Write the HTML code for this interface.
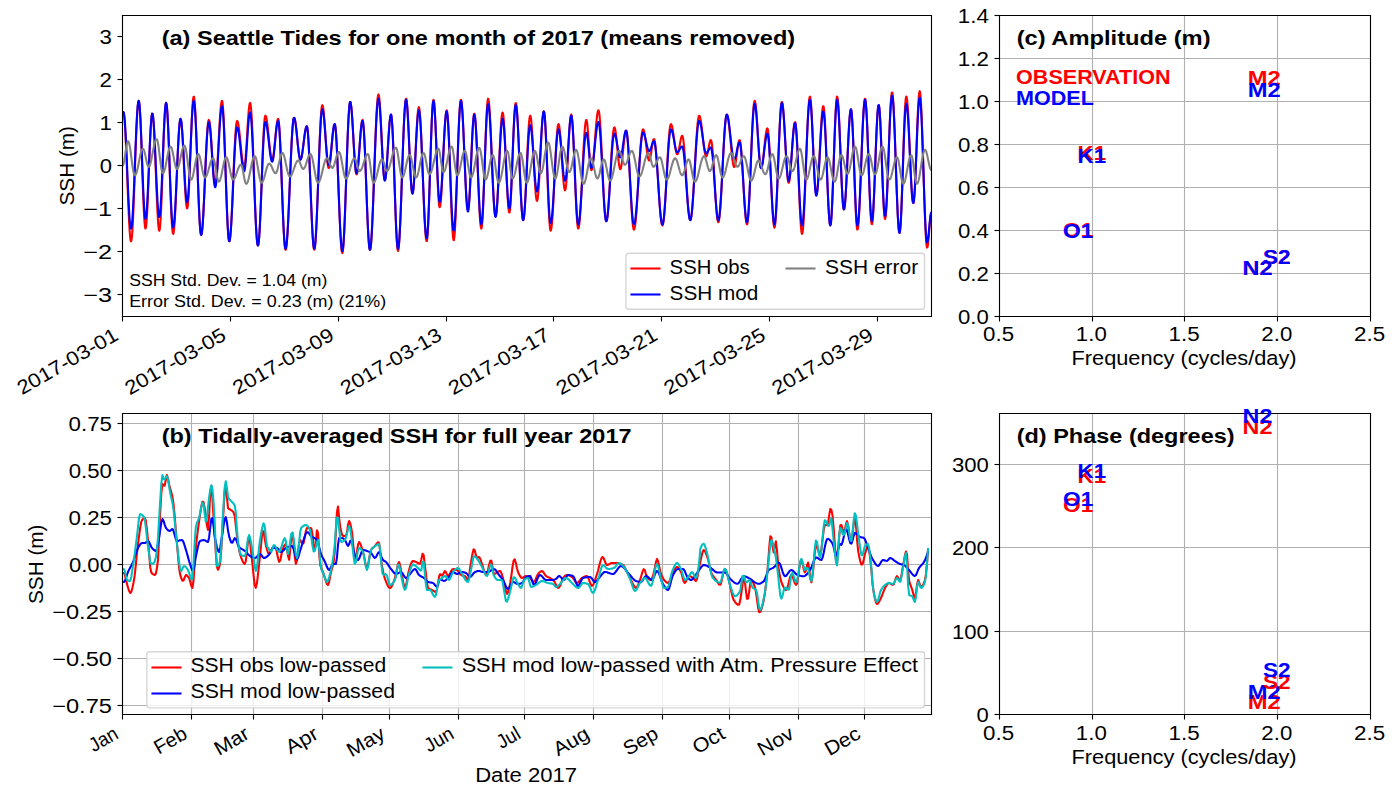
<!DOCTYPE html>
<html><head><meta charset="utf-8"><title>Seattle Tides</title><style>html,body{margin:0;padding:0;background:#fff;}svg{display:block;}text{font-family:"Liberation Sans",sans-serif;white-space:pre;}</style></head><body>
<svg width="1400" height="800" viewBox="0 0 1400 800">
<defs>
<clipPath id="c0"><rect x="122.45" y="15.2" width="809" height="301"/></clipPath>
<clipPath id="c1"><rect x="122.45" y="413.7" width="809" height="301.1"/></clipPath>
<clipPath id="c2"><rect x="999.35" y="15.2" width="371" height="301"/></clipPath>
<clipPath id="c3"><rect x="999.35" y="413.7" width="371" height="301.1"/></clipPath>
</defs>
<path d="M0 800L1400 800L1400 0L0 0Z" fill="#ffffff"/>
<path d="M122.45 316.2L931.45 316.2L931.45 15.2L122.45 15.2Z" fill="#ffffff"/>
<path d="M122.5 316.5L122.5 321.5" fill="#000000" stroke="#000000" stroke-width="1.11" stroke-linejoin="round"/>
<text x="21.9" y="395.35" font-size="19.83" fill="#000000" textLength="112.88" lengthAdjust="spacingAndGlyphs" transform="rotate(-30 21.9 395.35)">2017-03-01</text>
<path d="M230.5 316.5L230.5 321.5" fill="#000000" stroke="#000000" stroke-width="1.11" stroke-linejoin="round"/>
<text x="129.66" y="395.41" font-size="19.83" fill="#000000" textLength="113" lengthAdjust="spacingAndGlyphs" transform="rotate(-30 129.66 395.41)">2017-03-05</text>
<path d="M338.5 316.5L338.5 321.5" fill="#000000" stroke="#000000" stroke-width="1.11" stroke-linejoin="round"/>
<text x="237.63" y="395.35" font-size="19.83" fill="#000000" textLength="112.88" lengthAdjust="spacingAndGlyphs" transform="rotate(-30 237.63 395.35)">2017-03-09</text>
<path d="M446.5 316.5L446.5 321.5" fill="#000000" stroke="#000000" stroke-width="1.11" stroke-linejoin="round"/>
<text x="345.39" y="395.41" font-size="19.83" fill="#000000" textLength="113" lengthAdjust="spacingAndGlyphs" transform="rotate(-30 345.39 395.41)">2017-03-13</text>
<path d="M553.5 316.5L553.5 321.5" fill="#000000" stroke="#000000" stroke-width="1.11" stroke-linejoin="round"/>
<text x="453.26" y="395.41" font-size="19.83" fill="#000000" textLength="113" lengthAdjust="spacingAndGlyphs" transform="rotate(-30 453.26 395.41)">2017-03-17</text>
<path d="M661.5 316.5L661.5 321.5" fill="#000000" stroke="#000000" stroke-width="1.11" stroke-linejoin="round"/>
<text x="561.12" y="395.41" font-size="19.83" fill="#000000" textLength="113" lengthAdjust="spacingAndGlyphs" transform="rotate(-30 561.12 395.41)">2017-03-21</text>
<path d="M769.5 316.5L769.5 321.5" fill="#000000" stroke="#000000" stroke-width="1.11" stroke-linejoin="round"/>
<text x="668.88" y="395.48" font-size="19.83" fill="#000000" textLength="113.12" lengthAdjust="spacingAndGlyphs" transform="rotate(-30 668.88 395.48)">2017-03-25</text>
<path d="M877.5 316.5L877.5 321.5" fill="#000000" stroke="#000000" stroke-width="1.11" stroke-linejoin="round"/>
<text x="776.86" y="395.41" font-size="19.83" fill="#000000" textLength="113" lengthAdjust="spacingAndGlyphs" transform="rotate(-30 776.86 395.41)">2017-03-29</text>
<path d="M122.5 294.5L117.5 294.5" fill="#000000" stroke="#000000" stroke-width="1.11" stroke-linejoin="round"/>
<text x="83.18" y="302.2" font-size="19.83" fill="#000000" textLength="28.75" lengthAdjust="spacingAndGlyphs">−3</text>
<path d="M122.5 251.5L117.5 251.5" fill="#000000" stroke="#000000" stroke-width="1.11" stroke-linejoin="round"/>
<text x="83.18" y="259.2" font-size="19.83" fill="#000000" textLength="28.75" lengthAdjust="spacingAndGlyphs">−2</text>
<path d="M122.5 208.5L117.5 208.5" fill="#000000" stroke="#000000" stroke-width="1.11" stroke-linejoin="round"/>
<text x="83.18" y="216.2" font-size="19.83" fill="#000000" textLength="28.75" lengthAdjust="spacingAndGlyphs">−1</text>
<path d="M122.5 165.5L117.5 165.5" fill="#000000" stroke="#000000" stroke-width="1.11" stroke-linejoin="round"/>
<text x="99.68" y="173.2" font-size="19.83" fill="#000000" textLength="12.25" lengthAdjust="spacingAndGlyphs">0</text>
<path d="M122.5 122.5L117.5 122.5" fill="#000000" stroke="#000000" stroke-width="1.11" stroke-linejoin="round"/>
<text x="99.55" y="130.2" font-size="19.83" fill="#000000" textLength="12.38" lengthAdjust="spacingAndGlyphs">1</text>
<path d="M122.5 79.5L117.5 79.5" fill="#000000" stroke="#000000" stroke-width="1.11" stroke-linejoin="round"/>
<text x="99.55" y="87.2" font-size="19.83" fill="#000000" textLength="12.38" lengthAdjust="spacingAndGlyphs">2</text>
<path d="M122.5 36.5L117.5 36.5" fill="#000000" stroke="#000000" stroke-width="1.11" stroke-linejoin="round"/>
<text x="99.55" y="44.2" font-size="19.83" fill="#000000" textLength="12.38" lengthAdjust="spacingAndGlyphs">3</text>
<text x="73.62" y="205.45" font-size="19.83" fill="#000000" textLength="79.5" lengthAdjust="spacingAndGlyphs" transform="rotate(-90 73.62 205.45)">SSH (m)</text>
<path d="M122.45 111.99L122.9 111.99L123.35 111.99L123.8 112.85L124.25 115.88L124.7 120.97L125.15 127.96L125.6 136.6L126.05 146.61L126.5 157.64L126.95 169.32L127.4 181.25L127.85 193.03L128.3 204.25L128.75 214.53L129.2 223.52L129.65 230.93L130.09 236.48L130.54 240.01L130.99 241.38L131.44 240.48L131.89 237.21L132.34 231.7L132.79 224.13L133.24 214.75L133.69 203.88L134.14 191.9L134.59 179.21L135.04 166.25L135.49 153.44L135.94 141.24L136.39 130.05L136.84 120.25L137.29 112.18L137.74 106.12L138.19 102.26L138.64 100.75L139.09 101.76L139.54 105.47L139.99 111.73L140.44 120.27L140.89 130.71L141.34 142.62L141.79 155.48L142.24 168.73L142.69 181.81L143.14 194.16L143.59 205.23L144.04 214.56L144.49 221.75L144.93 226.48L145.38 228.56L145.83 227.96L146.28 224.91L146.73 219.54L147.18 212.08L147.63 202.86L148.08 192.28L148.53 180.78L148.98 168.86L149.43 157.04L149.88 145.82L150.33 135.69L150.78 127.07L151.23 120.35L151.68 115.81L152.13 113.65L152.58 113.94L153.03 116.58L153.48 121.48L153.93 128.42L154.38 137.13L154.83 147.26L155.28 158.39L155.73 170.07L156.18 181.84L156.63 193.22L157.08 203.75L157.53 212.99L157.98 220.58L158.43 226.21L158.88 229.65L159.32 230.77L159.77 229.31L160.22 225.17L160.67 218.51L161.12 209.63L161.57 198.91L162.02 186.81L162.47 173.85L162.92 160.58L163.37 147.59L163.82 135.42L164.27 124.6L164.72 115.59L165.17 108.79L165.62 104.49L166.07 102.86L166.52 103.95L166.97 107.64L167.42 113.79L167.87 122.15L168.32 132.38L168.77 144.07L169.22 156.74L169.67 169.88L170.12 182.97L170.57 195.46L171.02 206.87L171.47 216.71L171.92 224.6L172.37 230.22L172.82 233.34L173.27 233.86L173.72 232.17L174.16 228.48L174.61 222.91L175.06 215.67L175.51 207.02L175.96 197.26L176.41 186.75L176.86 175.87L177.31 165.01L177.76 154.55L178.21 144.88L178.66 136.34L179.11 129.25L179.56 123.85L180.01 120.33L180.46 118.84L180.91 119.41L181.36 122L181.81 126.5L182.26 132.71L182.71 140.33L183.16 149.01L183.61 158.37L184.06 167.97L184.51 177.36L184.96 186.13L185.41 193.87L185.86 200.22L186.31 204.89L186.76 207.68L187.21 208.44L187.66 206.83L188.11 202.73L188.56 196.32L189 187.91L189.45 177.87L189.9 166.67L190.35 154.82L190.8 142.86L191.25 131.34L191.7 120.79L192.15 111.69L192.6 104.46L193.05 99.42L193.5 96.82L193.95 96.76L194.4 99.19L194.85 104.02L195.3 111.06L195.75 120.08L196.2 130.73L196.65 142.65L197.1 155.4L197.55 168.52L198 181.54L198.45 193.99L198.9 205.42L199.35 215.43L199.8 223.65L200.25 229.79L200.7 233.62L201.15 235.02L201.6 234.15L202.05 231.36L202.5 226.73L202.95 220.43L203.39 212.66L203.84 203.7L204.29 193.84L204.74 183.43L205.19 172.81L205.64 162.35L206.09 152.4L206.54 143.3L206.99 135.36L207.44 128.86L207.89 124.01L208.34 120.97L208.79 119.85L209.24 120.53L209.69 122.74L210.14 126.38L210.59 131.27L211.04 137.17L211.49 143.79L211.94 150.81L212.39 157.89L212.84 164.67L213.29 170.84L213.74 176.07L214.19 180.13L214.64 182.81L215.09 183.97L215.54 183.51L215.99 181.29L216.44 177.39L216.89 171.98L217.34 165.31L217.79 157.64L218.23 149.32L218.68 140.7L219.13 132.15L219.58 124.04L220.03 116.72L220.48 110.51L220.93 105.66L221.38 102.39L221.83 100.85L222.28 101.26L222.73 104.25L223.18 109.78L223.63 117.62L224.08 127.48L224.53 138.99L224.98 151.71L225.43 165.17L225.88 178.84L226.33 192.23L226.78 204.81L227.23 216.12L227.68 225.72L228.13 233.25L228.58 238.44L229.03 241.07L229.48 241.15L229.93 239.21L230.38 235.39L230.83 229.83L231.28 222.71L231.73 214.24L232.18 204.71L232.63 194.43L233.07 183.71L233.52 172.91L233.97 162.38L234.42 152.45L234.87 143.45L235.32 135.66L235.77 129.33L236.22 124.68L236.67 121.84L237.12 120.91L237.57 121.4L238.02 122.8L238.47 125.05L238.92 128.08L239.37 131.74L239.82 135.9L240.27 140.38L240.72 145.01L241.17 149.6L241.62 153.96L242.07 157.92L242.52 161.31L242.97 164L243.42 165.88L243.87 166.87L244.32 166.86L244.77 165.2L245.22 161.84L245.67 156.97L246.12 150.86L246.57 143.86L247.02 136.36L247.47 128.78L247.91 121.55L248.36 115.06L248.81 109.7L249.26 105.74L249.71 103.43L250.16 102.89L250.61 104.5L251.06 108.34L251.51 114.31L251.96 122.21L252.41 131.79L252.86 142.73L253.31 154.69L253.76 167.28L254.21 180.09L254.66 192.71L255.11 204.74L255.56 215.79L256.01 225.5L256.46 233.56L256.91 239.71L257.36 243.75L257.81 245.55L258.26 245.05L258.71 242.23L259.16 237.2L259.61 230.13L260.06 221.28L260.51 210.96L260.96 199.56L261.41 187.47L261.86 175.14L262.3 163L262.75 151.5L263.2 141.05L263.65 132.02L264.1 124.74L264.55 119.47L265 116.4L265.45 115.61L265.9 116.25L266.35 117.81L266.8 120.21L267.25 123.37L267.7 127.13L268.15 131.35L268.6 135.83L269.05 140.39L269.5 144.83L269.95 148.96L270.4 152.6L270.85 155.59L271.3 157.81L271.75 159.16L272.2 159.58L272.65 158.95L273.1 157.21L273.55 154.45L274 150.84L274.45 146.58L274.9 141.9L275.35 137.06L275.8 132.35L276.25 128.02L276.7 124.32L277.14 121.45L277.59 119.58L278.04 118.8L278.49 119.59L278.94 122.68L279.39 127.99L279.84 135.33L280.29 144.43L280.74 154.97L281.19 166.56L281.64 178.79L282.09 191.23L282.54 203.41L282.99 214.91L283.44 225.31L283.89 234.24L284.34 241.37L284.79 246.45L285.24 249.29L285.69 249.82L286.14 248.39L286.59 245.19L287.04 240.29L287.49 233.83L287.94 226L288.39 217L288.84 207.09L289.29 196.54L289.74 185.63L290.19 174.68L290.64 163.97L291.09 153.82L291.54 144.49L291.98 136.24L292.43 129.31L292.88 123.88L293.33 120.1L293.78 118.07L294.23 117.8L294.68 118.7L295.13 120.58L295.58 123.34L296.03 126.85L296.48 130.94L296.93 135.4L297.38 140.02L297.83 144.58L298.28 148.85L298.73 152.62L299.18 155.7L299.63 157.96L300.08 159.26L300.53 159.57L300.98 158.99L301.43 157.63L301.88 155.55L302.33 152.84L302.78 149.66L303.23 146.14L303.68 142.46L304.13 138.81L304.58 135.35L305.03 132.27L305.48 129.71L305.93 127.79L306.37 126.61L306.82 126.23L307.27 127.41L307.72 130.77L308.17 136.2L308.62 143.49L309.07 152.38L309.52 162.56L309.97 173.66L310.42 185.27L310.87 196.98L311.32 208.38L311.77 219.04L312.22 228.58L312.67 236.67L313.12 243.02L313.57 247.38L314.02 249.61L314.47 249.63L314.92 247.44L315.37 243.11L315.82 236.78L316.27 228.64L316.72 218.93L317.17 207.96L317.62 196.05L318.07 183.58L318.52 170.92L318.97 158.45L319.42 146.57L319.87 135.63L320.32 125.97L320.77 117.87L321.21 111.6L321.66 107.34L322.11 105.21L322.56 105.2L323.01 106.79L323.46 109.83L323.91 114.18L324.36 119.62L324.81 125.89L325.26 132.68L325.71 139.66L326.16 146.49L326.61 152.83L327.06 158.37L327.51 162.84L327.96 166.03L328.41 167.77L328.86 168.01L329.31 166.96L329.76 164.75L330.21 161.5L330.66 157.4L331.11 152.67L331.56 147.57L332.01 142.39L332.46 137.42L332.91 132.93L333.36 129.17L333.81 126.35L334.26 124.63L334.71 124.1L335.16 125.35L335.61 128.75L336.05 134.18L336.5 141.46L336.95 150.35L337.4 160.54L337.85 171.68L338.3 183.39L338.75 195.28L339.2 206.95L339.65 217.99L340.1 228.03L340.55 236.73L341 243.79L341.45 248.98L341.9 252.11L342.35 253.08L342.8 251.72L343.25 247.97L343.7 241.95L344.15 233.85L344.6 223.94L345.05 212.53L345.5 199.98L345.95 186.72L346.4 173.15L346.85 159.72L347.3 146.86L347.75 134.99L348.2 124.48L348.65 115.68L349.1 108.86L349.55 104.26L350 102.01L350.44 102.08L350.89 103.97L351.34 107.54L351.79 112.6L352.24 118.91L352.69 126.16L353.14 133.99L353.59 142.03L354.04 149.87L354.49 157.14L354.94 163.48L355.39 168.58L355.84 172.19L356.29 174.14L356.74 174.34L357.19 172.97L357.64 170.15L358.09 166.05L358.54 160.88L358.99 154.94L359.44 148.57L359.89 142.11L360.34 135.94L360.79 130.4L361.24 125.8L361.69 122.4L362.14 120.38L362.59 119.88L363.04 121.44L363.49 125.28L363.94 131.26L364.39 139.18L364.84 148.73L365.28 159.59L365.73 171.36L366.18 183.61L366.63 195.91L367.08 207.81L367.53 218.88L367.98 228.73L368.43 237.01L368.88 243.41L369.33 247.7L369.78 249.73L370.23 249.47L370.68 247.06L371.13 242.59L371.58 236.18L372.03 228L372.48 218.28L372.93 207.28L373.38 195.32L373.83 182.72L374.28 169.83L374.73 157L375.18 144.58L375.63 132.93L376.08 122.36L376.53 113.15L376.98 105.58L377.43 99.83L377.88 96.08L378.33 94.43L378.78 94.9L379.23 97.44L379.68 101.92L380.12 108.11L380.57 115.72L381.02 124.37L381.47 133.65L381.92 143.09L382.37 152.24L382.82 160.64L383.27 167.89L383.72 173.64L384.17 177.59L384.62 179.56L385.07 179.51L385.52 177.73L385.97 174.35L386.42 169.55L386.87 163.57L387.32 156.74L387.77 149.4L388.22 141.95L388.67 134.77L389.12 128.23L389.57 122.69L390.02 118.43L390.47 115.67L390.92 114.56L391.37 115.53L391.82 119.21L392.27 125.46L392.72 134.03L393.17 144.56L393.62 156.65L394.07 169.78L394.52 183.45L394.96 197.08L395.41 210.14L395.86 222.08L396.31 232.44L396.76 240.78L397.21 246.78L397.66 250.19L398.11 250.88L398.56 249.13L399.01 245.11L399.46 238.94L399.91 230.81L400.36 220.97L400.81 209.73L401.26 197.41L401.71 184.4L402.16 171.1L402.61 157.91L403.06 145.24L403.51 133.47L403.96 122.96L404.41 114.03L404.86 106.95L405.31 101.95L405.76 99.17L406.21 98.7L406.66 100.55L407.11 104.63L407.56 110.73L408.01 118.56L408.46 127.74L408.91 137.82L409.35 148.3L409.8 158.68L410.25 168.43L410.7 177.1L411.15 184.25L411.6 189.53L412.05 192.69L412.5 193.57L412.95 192.25L413.4 188.89L413.85 183.64L414.3 176.76L414.75 168.59L415.2 159.53L415.65 150.02L416.1 140.52L416.55 131.5L417 123.41L417.45 116.63L417.9 111.5L418.35 108.27L418.8 107.1L419.25 108.07L419.7 111.16L420.15 116.29L420.6 123.28L421.05 131.92L421.5 141.92L421.95 152.95L422.4 164.68L422.85 176.71L423.3 188.66L423.75 200.15L424.19 210.81L424.64 220.29L425.09 228.28L425.54 234.54L425.99 238.85L426.44 241.08L426.89 241.07L427.34 238.15L427.79 232.32L428.24 223.84L428.69 213.06L429.14 200.45L429.59 186.56L430.04 171.97L430.49 157.33L430.94 143.25L431.39 130.34L431.84 119.17L432.29 110.2L432.74 103.83L433.19 100.32L433.64 99.83L434.09 102.17L434.54 107.17L434.99 114.58L435.44 124.01L435.89 134.97L436.34 146.89L436.79 159.16L437.24 171.14L437.69 182.2L438.14 191.77L438.59 199.37L439.03 204.58L439.48 207.15L439.93 207.07L440.38 204.97L440.83 201L441.28 195.33L441.73 188.18L442.18 179.84L442.63 170.66L443.08 161L443.53 151.25L443.98 141.8L444.43 133.05L444.88 125.34L445.33 118.98L445.78 114.24L446.23 111.3L446.68 110.29L447.13 111.56L447.58 115.41L448.03 121.68L448.48 130.12L448.93 140.39L449.38 152.08L449.83 164.7L450.28 177.75L450.73 190.7L451.18 203.03L451.63 214.24L452.08 223.88L452.53 231.55L452.98 236.94L453.42 239.84L453.87 240.13L454.32 237.75L454.77 232.79L455.22 225.44L455.67 215.98L456.12 204.76L456.57 192.22L457.02 178.83L457.47 165.1L457.92 151.56L458.37 138.72L458.82 127.08L459.27 117.07L459.72 109.08L460.17 103.41L460.62 100.28L461.07 99.78L461.52 101.6L461.97 105.57L462.42 111.52L462.87 119.21L463.32 128.34L463.77 138.53L464.22 149.36L464.67 160.41L465.12 171.22L465.57 181.36L466.02 190.42L466.47 198.03L466.92 203.88L467.37 207.73L467.82 209.44L468.26 208.9L468.71 206.04L469.16 201L469.61 194.03L470.06 185.47L470.51 175.73L470.96 165.31L471.41 154.69L471.86 144.41L472.31 134.96L472.76 126.81L473.21 120.36L473.66 115.92L474.11 113.71L474.56 113.83L475.01 116.27L475.46 120.93L475.91 127.62L476.36 136.06L476.81 145.92L477.26 156.79L477.71 168.24L478.16 179.81L478.61 191.02L479.06 201.43L479.51 210.6L479.96 218.18L480.41 223.85L480.86 227.39L481.31 228.64L481.76 227.36L482.21 223.33L482.66 216.73L483.1 207.85L483.55 197.07L484 184.84L484.45 171.71L484.9 158.23L485.35 144.98L485.8 132.53L486.25 121.42L486.7 112.12L487.15 105.04L487.6 100.48L488.05 98.64L488.5 99.34L488.95 102.14L489.4 106.93L489.85 113.52L490.3 121.68L490.75 131.13L491.2 141.51L491.65 152.46L492.1 163.59L492.55 174.48L493 184.76L493.45 194.04L493.9 202L494.35 208.36L494.8 212.87L495.25 215.38L495.7 215.8L496.15 214.13L496.6 210.44L497.05 204.87L497.5 197.66L497.94 189.09L498.39 179.51L498.84 169.32L499.29 158.91L499.74 148.71L500.19 139.14L500.64 130.59L501.09 123.39L501.54 117.83L501.99 114.16L502.44 112.5L502.89 112.95L503.34 115.53L503.79 120.14L504.24 126.57L504.69 134.54L505.14 143.72L505.59 153.72L506.04 164.09L506.49 174.4L506.94 184.19L507.39 193.06L507.84 200.62L508.29 206.53L508.74 210.56L509.19 212.52L509.64 212.25L510.09 209.35L510.54 203.93L510.99 196.26L511.44 186.7L511.89 175.72L512.33 163.87L512.78 151.73L513.23 139.87L513.68 128.9L514.13 119.33L514.58 111.65L515.03 106.22L515.48 103.32L515.93 103.03L516.38 104.94L516.83 108.89L517.28 114.73L517.73 122.25L518.18 131.19L518.63 141.22L519.08 151.97L519.53 163.07L519.98 174.11L520.43 184.7L520.88 194.45L521.33 203.02L521.78 210.09L522.23 215.42L522.68 218.8L523.13 220.13L523.58 219.34L524.03 216.47L524.48 211.64L524.93 205.03L525.38 196.93L525.83 187.64L526.28 177.56L526.73 167.08L527.17 156.64L527.62 146.65L528.07 137.52L528.52 129.62L528.97 123.26L529.42 118.71L529.87 116.15L530.32 115.67L530.77 117.1L531.22 120.29L531.67 125.13L532.12 131.39L532.57 138.81L533.02 147.07L533.47 155.81L533.92 164.66L534.37 173.23L534.82 181.17L535.27 188.12L535.72 193.79L536.17 197.93L536.62 200.37L537.07 201L537.52 199.74L537.97 196.63L538.42 191.79L538.87 185.43L539.32 177.83L539.77 169.3L540.22 160.21L540.67 150.95L541.12 141.91L541.57 133.48L542.01 126.02L542.46 119.85L542.91 115.23L543.36 112.35L543.81 111.35L544.26 112.57L544.71 116.3L545.16 122.39L545.61 130.58L546.06 140.5L546.51 151.74L546.96 163.81L547.41 176.19L547.86 188.35L548.31 199.77L548.76 209.95L549.21 218.46L549.66 224.93L550.11 229.09L550.56 230.74L551.01 230.15L551.46 227.84L551.91 223.91L552.36 218.49L552.81 211.74L553.26 203.89L553.71 195.19L554.16 185.91L554.61 176.36L555.06 166.85L555.51 157.68L555.96 149.14L556.4 141.52L556.85 135.05L557.3 129.94L557.75 126.37L558.2 124.44L558.65 124.2L559.1 125.52L559.55 128.29L560 132.39L560.45 137.62L560.9 143.76L561.35 150.51L561.8 157.57L562.25 164.62L562.7 171.33L563.15 177.39L563.6 182.54L564.05 186.52L564.5 189.16L564.95 190.34L565.4 189.88L565.85 187.48L566.3 183.25L566.75 177.41L567.2 170.26L567.65 162.18L568.1 153.6L568.55 144.95L569 136.7L569.45 129.27L569.9 123.06L570.35 118.38L570.8 115.49L571.24 114.54L571.69 115.73L572.14 119.19L572.59 124.76L573.04 132.23L573.49 141.29L573.94 151.58L574.39 162.68L574.84 174.14L575.29 185.49L575.74 196.28L576.19 206.08L576.64 214.47L577.09 221.14L577.54 225.8L577.99 228.26L578.44 228.5L578.89 226.97L579.34 223.82L579.79 219.17L580.24 213.14L580.69 205.93L581.14 197.75L581.59 188.85L582.04 179.51L582.49 170L582.94 160.63L583.39 151.67L583.84 143.4L584.29 136.07L584.74 129.91L585.19 125.1L585.64 121.79L586.08 120.08L586.53 120.06L586.98 121.9L587.43 125.51L587.88 130.61L588.33 136.8L588.78 143.62L589.23 150.55L589.68 157.06L590.13 162.65L590.58 166.9L591.03 169.48L591.48 170.2L591.93 169.44L592.38 167.5L592.83 164.46L593.28 160.43L593.73 155.59L594.18 150.14L594.63 144.28L595.08 138.25L595.53 132.31L595.98 126.69L596.43 121.62L596.88 117.3L597.33 113.91L597.78 111.58L598.23 110.42L598.68 110.54L599.13 112.38L599.58 115.94L600.03 121.1L600.48 127.7L600.92 135.52L601.37 144.32L601.82 153.81L602.27 163.68L602.72 173.62L603.17 183.3L603.62 192.42L604.07 200.68L604.52 207.82L604.97 213.6L605.42 217.84L605.87 220.4L606.32 221.21L606.77 220.42L607.22 218.22L607.67 214.68L608.12 209.9L608.57 204.04L609.02 197.26L609.47 189.79L609.92 181.84L610.37 173.65L610.82 165.49L611.27 157.59L611.72 150.2L612.17 143.55L612.62 137.83L613.07 133.23L613.52 129.87L613.97 127.87L614.42 127.29L614.87 127.99L615.31 129.82L615.76 132.69L616.21 136.42L616.66 140.82L617.11 145.63L617.56 150.59L618.01 155.42L618.46 159.84L618.91 163.61L619.36 166.51L619.81 168.39L620.26 169.14L620.71 168.71L621.16 167.15L621.61 164.54L622.06 161.04L622.51 156.86L622.96 152.26L623.41 147.51L623.86 142.9L624.31 138.71L624.76 135.18L625.21 132.54L625.66 130.94L626.11 130.48L626.56 131.45L627.01 133.98L627.46 138L627.91 143.37L628.36 149.93L628.81 157.45L629.26 165.71L629.71 174.43L630.15 183.33L630.6 192.12L631.05 200.53L631.5 208.28L631.95 215.13L632.4 220.84L632.85 225.25L633.3 228.19L633.75 229.59L634.2 229.48L634.65 228.14L635.1 225.65L635.55 222.05L636 217.44L636.45 211.93L636.9 205.65L637.35 198.74L637.8 191.37L638.25 183.73L638.7 175.98L639.15 168.32L639.6 160.93L640.05 153.98L640.5 147.64L640.95 142.07L641.4 137.39L641.85 133.71L642.3 131.13L642.75 129.7L643.2 129.45L643.65 130.1L644.1 131.52L644.55 133.64L644.99 136.36L645.44 139.52L645.89 142.97L646.34 146.52L646.79 150L647.24 153.22L647.69 156.02L648.14 158.25L648.59 159.79L649.04 160.56L649.49 160.51L649.94 159.5L650.39 157.61L650.84 155.02L651.29 151.96L651.74 148.7L652.19 145.54L652.64 142.77L653.09 140.64L653.54 139.34L653.99 138.99L654.44 139.75L654.89 141.69L655.34 144.74L655.79 148.82L656.24 153.83L656.69 159.62L657.14 166.03L657.59 172.88L658.04 180L658.49 187.17L658.94 194.21L659.38 200.92L659.83 207.11L660.28 212.62L660.73 217.29L661.18 220.99L661.63 223.62L662.08 225.12L662.53 225.42L662.98 224.39L663.43 221.98L663.88 218.28L664.33 213.38L664.78 207.42L665.23 200.55L665.68 192.98L666.13 184.9L666.58 176.55L667.03 168.14L667.48 159.92L667.93 152.11L668.38 144.92L668.83 138.56L669.28 133.19L669.73 128.97L670.18 126.02L670.63 124.4L671.08 124.14L671.53 124.76L671.98 126.08L672.43 128.05L672.88 130.55L673.33 133.49L673.78 136.7L674.22 140.03L674.67 143.32L675.12 146.41L675.57 149.14L676.02 151.39L676.47 153.04L676.92 154.01L677.37 154.26L677.82 153.76L678.27 152.52L678.72 150.67L679.17 148.35L679.62 145.75L680.07 143.1L680.52 140.6L680.97 138.47L681.42 136.89L681.87 135.98L682.32 135.84L682.77 136.86L683.22 139.14L683.67 142.6L684.12 147.15L684.57 152.63L685.02 158.89L685.47 165.73L685.92 172.94L686.37 180.31L686.82 187.6L687.27 194.6L687.72 201.1L688.17 206.88L688.62 211.79L689.06 215.66L689.51 218.38L689.96 219.86L690.41 220.07L690.86 218.98L691.31 216.6L691.76 213.01L692.21 208.29L692.66 202.56L693.11 195.96L693.56 188.66L694.01 180.84L694.46 172.7L694.91 164.43L695.36 156.25L695.81 148.37L696.26 140.96L696.71 134.24L697.16 128.35L697.61 123.45L698.06 119.66L698.51 117.08L698.96 115.77L699.41 115.7L699.86 116.51L700.31 118.12L700.76 120.44L701.21 123.4L701.66 126.87L702.11 130.7L702.56 134.75L703.01 138.85L703.46 142.83L703.9 146.54L704.35 149.82L704.8 152.55L705.25 154.6L705.7 155.9L706.15 156.39L706.6 156.1L707.05 155.09L707.5 153.45L707.95 151.35L708.4 148.95L708.85 146.5L709.3 144.19L709.75 142.26L710.2 140.86L710.65 140.13L711.1 140.22L711.55 141.7L712 144.6L712.45 148.81L712.9 154.19L713.35 160.53L713.8 167.62L714.25 175.19L714.7 182.98L715.15 190.71L715.6 198.09L716.05 204.86L716.5 210.77L716.95 215.63L717.4 219.24L717.85 221.48L718.29 222.27L718.74 221.58L719.19 219.42L719.64 215.86L720.09 210.99L720.54 204.95L720.99 197.9L721.44 190.03L721.89 181.57L722.34 172.75L722.79 163.8L723.24 154.99L723.69 146.54L724.14 138.7L724.59 131.67L725.04 125.66L725.49 120.83L725.94 117.3L726.39 115.19L726.84 114.54L727.29 115.07L727.74 116.53L728.19 118.86L728.64 121.97L729.09 125.77L729.54 130.1L729.99 134.82L730.44 139.76L730.89 144.72L731.34 149.55L731.79 154.07L732.24 158.1L732.69 161.51L733.13 164.18L733.58 166L734.03 166.92L734.48 166.89L734.93 165.93L735.38 164.09L735.83 161.52L736.28 158.38L736.73 154.9L737.18 151.32L737.63 147.9L738.08 144.87L738.53 142.46L738.98 140.82L739.43 140.08L739.88 140.42L740.33 142.25L740.78 145.51L741.23 150.09L741.68 155.83L742.13 162.52L742.58 169.92L743.03 177.76L743.48 185.76L743.93 193.63L744.38 201.09L744.83 207.87L745.28 213.73L745.73 218.46L746.18 221.88L746.63 223.88L747.08 224.37L747.53 222.96L747.97 219.52L748.42 214.15L748.87 207.04L749.32 198.43L749.77 188.61L750.22 177.91L750.67 166.69L751.12 155.33L751.57 144.21L752.02 133.72L752.47 124.2L752.92 115.97L753.37 109.32L753.82 104.46L754.27 101.57L754.72 100.73L755.17 101.72L755.62 104.31L756.07 108.37L756.52 113.7L756.97 120.05L757.42 127.09L757.87 134.5L758.32 141.9L758.77 148.93L759.22 155.26L759.67 160.56L760.12 164.59L760.57 167.13L761.02 168.08L761.47 167.67L761.92 166.31L762.36 164.06L762.81 161.03L763.26 157.38L763.71 153.28L764.16 148.94L764.61 144.55L765.06 140.35L765.51 136.53L765.96 133.29L766.41 130.77L766.86 129.11L767.31 128.38L767.76 128.91L768.21 131.4L768.66 135.76L769.11 141.84L769.56 149.38L770.01 158.07L770.46 167.57L770.91 177.49L771.36 187.42L771.81 196.98L772.26 205.77L772.71 213.43L773.16 219.66L773.61 224.2L774.06 226.87L774.51 227.56L774.96 226.08L775.41 222.39L775.86 216.62L776.31 208.99L776.76 199.76L777.2 189.27L777.65 177.9L778.1 166.05L778.55 154.15L779 142.63L779.45 131.91L779.9 122.36L780.35 114.34L780.8 108.12L781.25 103.95L781.7 101.95L782.15 102.12L782.6 104.05L783.05 107.64L783.5 112.72L783.95 119.07L784.4 126.42L784.85 134.47L785.3 142.85L785.75 151.21L786.2 159.19L786.65 166.45L787.1 172.67L787.55 177.59L788 180.99L788.45 182.74L788.9 182.78L789.35 181.3L789.8 178.41L790.25 174.26L790.7 169.04L791.15 163.01L791.6 156.46L792.04 149.72L792.49 143.11L792.94 136.96L793.39 131.57L793.84 127.2L794.29 124.06L794.74 122.32L795.19 122.09L795.64 123.94L796.09 127.98L796.54 134.04L796.99 141.87L797.44 151.17L797.89 161.55L798.34 172.59L798.79 183.85L799.24 194.88L799.69 205.22L800.14 214.45L800.59 222.21L801.04 228.19L801.49 232.12L801.94 233.87L802.39 233.37L802.84 230.68L803.29 225.87L803.74 219.12L804.19 210.63L804.64 200.67L805.09 189.57L805.54 177.69L805.99 165.41L806.43 153.12L806.88 141.22L807.33 130.1L807.78 120.1L808.23 111.56L808.68 104.74L809.13 99.87L809.58 97.11L810.03 96.55L810.48 98.32L810.93 102.41L811.38 108.61L811.83 116.62L812.28 126.04L812.73 136.42L813.18 147.24L813.63 157.98L814.08 168.12L814.53 177.15L814.98 184.63L815.43 190.21L815.88 193.6L816.33 194.64L816.78 193.63L817.23 190.86L817.68 186.46L818.13 180.59L818.58 173.5L819.03 165.48L819.48 156.84L819.93 147.94L820.38 139.13L820.83 130.78L821.27 123.22L821.72 116.76L822.17 111.66L822.62 108.12L823.07 106.29L823.52 106.31L823.97 108.65L824.42 113.3L824.87 120.07L825.32 128.69L825.77 138.8L826.22 150.01L826.67 161.86L827.12 173.86L827.57 185.53L828.02 196.41L828.47 206.04L828.92 214.04L829.37 220.09L829.82 223.94L830.27 225.44L830.72 224.39L831.17 220.6L831.62 214.26L832.07 205.62L832.52 195.06L832.97 183.04L833.42 170.06L833.87 156.7L834.32 143.51L834.77 131.08L835.22 119.94L835.67 110.56L836.11 103.34L836.56 98.61L837.01 96.56L837.46 97.18L837.91 100.21L838.36 105.51L838.81 112.85L839.26 121.92L839.71 132.33L840.16 143.62L840.61 155.32L841.06 166.92L841.51 177.92L841.96 187.85L842.41 196.28L842.86 202.85L843.31 207.27L843.76 209.36L844.21 209.11L844.66 206.82L845.11 202.61L845.56 196.65L846.01 189.18L846.46 180.51L846.91 170.98L847.36 160.98L847.81 150.92L848.26 141.2L848.71 132.21L849.16 124.33L849.61 117.86L850.06 113.07L850.51 110.15L850.95 109.23L851.4 110.77L851.85 115.09L852.3 121.97L852.75 131.1L853.2 142.04L853.65 154.27L854.1 167.22L854.55 180.27L855 192.82L855.45 204.26L855.9 214.06L856.35 221.76L856.8 226.98L857.25 229.49L857.7 229.29L858.15 226.82L858.6 222.22L859.05 215.65L859.5 207.33L859.95 197.53L860.4 186.61L860.85 174.91L861.3 162.86L861.75 150.84L862.2 139.28L862.65 128.57L863.1 119.06L863.55 111.09L864 104.93L864.45 100.77L864.9 98.78L865.34 99.09L865.79 102.05L866.24 107.57L866.69 115.4L867.14 125.22L867.59 136.6L868.04 149.05L868.49 162.04L868.94 175L869.39 187.38L869.84 198.65L870.29 208.32L870.74 215.98L871.19 221.29L871.64 224.03L872.09 224.1L872.54 221.59L872.99 216.64L873.44 209.45L873.89 200.34L874.34 189.69L874.79 177.97L875.24 165.68L875.69 153.34L876.14 141.49L876.59 130.64L877.04 121.25L877.49 113.74L877.94 108.41L878.39 105.5L878.84 105.16L879.29 107.55L879.74 112.6L880.18 120.07L880.63 129.6L881.08 140.71L881.53 152.86L881.98 165.46L882.43 177.9L882.88 189.55L883.33 199.87L883.78 208.33L884.23 214.52L884.68 218.15L885.13 219.04L885.58 217.29L886.03 213.04L886.48 206.48L886.93 197.86L887.38 187.53L887.83 175.91L888.28 163.47L888.73 150.71L889.18 138.16L889.63 126.31L890.08 115.65L890.53 106.61L890.98 99.55L891.43 94.77L891.88 92.44L892.33 92.67L892.78 95.41L893.23 100.57L893.68 107.96L894.13 117.31L894.58 128.29L895.02 140.5L895.47 153.51L895.92 166.85L896.37 180.02L896.82 192.57L897.27 204.04L897.72 214.02L898.17 222.15L898.62 228.13L899.07 231.76L899.52 232.89L899.97 231.27L900.42 226.79L900.87 219.64L901.32 210.12L901.77 198.65L902.22 185.72L902.67 171.88L903.12 157.74L903.57 143.89L904.02 130.94L904.47 119.44L904.92 109.88L905.37 102.68L905.82 98.15L906.27 96.48L906.72 97.41L907.17 100.46L907.62 105.5L908.07 112.34L908.52 120.7L908.97 130.23L909.41 140.55L909.86 151.25L910.31 161.89L910.76 172.04L911.21 181.29L911.66 189.27L912.11 195.65L912.56 200.18L913.01 202.67L913.46 202.99L913.91 200.71L914.36 195.8L914.81 188.52L915.26 179.21L915.71 168.34L916.16 156.43L916.61 144.07L917.06 131.85L917.51 120.39L917.96 110.23L918.41 101.88L918.86 95.75L919.31 92.13L919.76 91.2L920.21 93.06L920.66 97.67L921.11 104.86L921.56 114.38L922.01 125.87L922.46 138.94L922.91 153.1L923.36 167.86L923.81 182.67L924.25 197L924.7 210.35L925.15 222.22L925.6 232.2L926.05 239.92L926.5 245.11L926.95 247.57L927.4 247.39L927.85 245.27L928.3 241.48L928.75 236.46L929.2 230.74L929.65 224.95L930.1 219.73L930.55 215.65L931 213.16L931.45 212.5" fill="none" stroke="#ff0000" stroke-width="2.08" stroke-linecap="square" stroke-linejoin="round" clip-path="url(#c0)"/>
<path d="M122.45 111.99L122.9 111.99L123.35 111.99L123.8 112.77L124.25 115.5L124.7 120.09L125.15 126.39L125.6 134.18L126.05 143.2L126.5 153.15L126.95 163.67L127.4 174.43L127.85 185.04L128.3 195.16L128.75 204.43L129.2 212.54L129.65 219.21L130.09 224.22L130.54 227.4L130.99 228.63L131.44 227.81L131.89 224.84L132.34 219.83L132.79 212.94L133.24 204.41L133.69 194.53L134.14 183.64L134.59 172.1L135.04 160.31L135.49 148.66L135.94 137.57L136.39 127.39L136.84 118.48L137.29 111.15L137.74 105.63L138.19 102.12L138.64 100.74L139.09 101.68L139.54 105.11L139.99 110.91L140.44 118.8L140.89 128.47L141.34 139.49L141.79 151.39L142.24 163.65L142.69 175.75L143.14 187.17L143.59 197.42L144.04 206.05L144.49 212.7L144.93 217.08L145.38 219L145.83 218.45L146.28 215.65L146.73 210.73L147.18 203.9L147.63 195.44L148.08 185.73L148.53 175.19L148.98 164.26L149.43 153.42L149.88 143.13L150.33 133.84L150.78 125.94L151.23 119.78L151.68 115.62L152.13 113.64L152.58 113.88L153.03 116.22L153.48 120.53L153.93 126.66L154.38 134.34L154.83 143.28L155.28 153.1L155.73 163.41L156.18 173.79L156.63 183.83L157.08 193.12L157.53 201.27L157.98 207.97L158.43 212.94L158.88 215.97L159.32 216.96L159.77 215.66L160.22 211.96L160.67 206.02L161.12 198.1L161.57 188.54L162.02 177.74L162.47 166.18L162.92 154.35L163.37 142.76L163.82 131.9L164.27 122.25L164.72 114.22L165.17 108.15L165.62 104.31L166.07 102.86L166.52 103.89L166.97 107.4L167.42 113.26L167.87 121.21L168.32 130.94L168.77 142.06L169.22 154.12L169.67 166.62L170.12 179.07L170.57 190.96L171.02 201.81L171.47 211.17L171.92 218.68L172.37 224.03L172.82 226.99L173.27 227.49L173.72 225.89L174.16 222.41L174.61 217.15L175.06 210.31L175.51 202.13L175.96 192.92L176.41 182.99L176.86 172.71L177.31 162.45L177.76 152.57L178.21 143.44L178.66 135.37L179.11 128.67L179.56 123.57L180.01 120.25L180.46 118.84L180.91 119.36L181.36 121.77L181.81 125.96L182.26 131.72L182.71 138.8L183.16 146.86L183.61 155.56L184.06 164.47L184.51 173.2L184.96 181.35L185.41 188.53L185.86 194.43L186.31 198.77L186.76 201.36L187.21 202.07L187.66 200.61L188.11 196.9L188.56 191.1L189 183.49L189.45 174.4L189.9 164.26L190.35 153.53L190.8 142.71L191.25 132.28L191.7 122.73L192.15 114.49L192.6 107.95L193.05 103.39L193.5 101.04L193.95 101L194.4 103.36L194.85 108.04L195.3 114.87L195.75 123.6L196.2 133.93L196.65 145.48L197.1 157.84L197.55 170.56L198 183.18L198.45 195.25L198.9 206.33L199.35 216.03L199.8 224L200.25 229.95L200.7 233.67L201.15 235.02L201.6 234.17L202.05 231.43L202.5 226.89L202.95 220.7L203.39 213.08L203.84 204.28L204.29 194.6L204.74 184.38L205.19 173.96L205.64 163.69L206.09 153.92L206.54 144.99L206.99 137.2L207.44 130.82L207.89 126.05L208.34 123.07L208.79 121.98L209.24 122.66L209.69 124.91L210.14 128.61L210.59 133.58L211.04 139.58L211.49 146.31L211.94 153.45L212.39 160.64L212.84 167.54L213.29 173.8L213.74 179.13L214.19 183.25L214.64 185.97L215.09 187.16L215.54 186.71L215.99 184.54L216.44 180.75L216.89 175.48L217.34 168.97L217.79 161.5L218.23 153.39L218.68 144.99L219.13 136.66L219.58 128.76L220.03 121.63L220.48 115.57L220.93 110.85L221.38 107.66L221.83 106.15L222.28 106.55L222.73 109.43L223.18 114.75L223.63 122.29L224.08 131.78L224.53 142.85L224.98 155.1L225.43 168.04L225.88 181.21L226.33 194.09L226.78 206.19L227.23 217.07L227.68 226.31L228.13 233.56L228.58 238.55L229.03 241.08L229.48 241.16L229.93 239.32L230.38 235.71L230.83 230.45L231.28 223.7L231.73 215.68L232.18 206.66L232.63 196.91L233.07 186.76L233.52 176.54L233.97 166.56L234.42 157.16L234.87 148.63L235.32 141.25L235.77 135.26L236.22 130.85L236.67 128.17L237.12 127.29L237.57 127.75L238.02 129.09L238.47 131.24L238.92 134.12L239.37 137.61L239.82 141.58L240.27 145.86L240.72 150.28L241.17 154.65L241.62 158.81L242.07 162.59L242.52 165.82L242.97 168.39L243.42 170.18L243.87 171.13L244.32 171.12L244.77 169.6L245.22 166.51L245.67 162.05L246.12 156.45L246.57 150.03L247.02 143.15L247.47 136.2L247.91 129.56L248.36 123.61L248.81 118.69L249.26 115.07L249.71 112.94L250.16 112.45L250.61 113.95L251.06 117.54L251.51 123.11L251.96 130.48L252.41 139.41L252.86 149.62L253.31 160.78L253.76 172.52L254.21 184.48L254.66 196.26L255.11 207.48L255.56 217.79L256.01 226.85L256.46 234.37L256.91 240.1L257.36 243.87L257.81 245.56L258.26 245.08L258.71 242.4L259.16 237.61L259.61 230.89L260.06 222.47L260.51 212.66L260.96 201.82L261.41 190.32L261.86 178.6L262.3 167.05L262.75 156.12L263.2 146.18L263.65 137.59L264.1 130.66L264.55 125.65L265 122.73L265.45 121.99L265.9 122.56L266.35 123.97L266.8 126.14L267.25 128.99L267.7 132.39L268.15 136.2L268.6 140.25L269.05 144.37L269.5 148.38L269.95 152.11L270.4 155.4L270.85 158.1L271.3 160.11L271.75 161.33L272.2 161.71L272.65 161.07L273.1 159.33L273.55 156.58L274 152.97L274.45 148.7L274.9 144.02L275.35 139.19L275.8 134.48L276.25 130.15L276.7 126.44L277.14 123.58L277.59 121.7L278.04 120.93L278.49 121.69L278.94 124.71L279.39 129.89L279.84 137.05L280.29 145.93L280.74 156.21L281.19 167.52L281.64 179.46L282.09 191.59L282.54 203.48L282.99 214.7L283.44 224.85L283.89 233.56L284.34 240.51L284.79 245.47L285.24 248.24L285.69 248.76L286.14 247.34L286.59 244.16L287.04 239.3L287.49 232.9L287.94 225.13L288.39 216.2L288.84 206.37L289.29 195.9L289.74 185.09L290.19 174.22L290.64 163.6L291.09 153.53L291.54 144.27L291.98 136.09L292.43 129.22L292.88 123.83L293.33 120.08L293.78 118.07L294.23 117.8L294.68 118.7L295.13 120.58L295.58 123.34L296.03 126.85L296.48 130.94L296.93 135.4L297.38 140.02L297.83 144.58L298.28 148.85L298.73 152.62L299.18 155.7L299.63 157.96L300.08 159.26L300.53 159.57L300.98 158.99L301.43 157.63L301.88 155.55L302.33 152.84L302.78 149.66L303.23 146.14L303.68 142.46L304.13 138.81L304.58 135.35L305.03 132.27L305.48 129.71L305.93 127.79L306.37 126.61L306.82 126.23L307.27 127.4L307.72 130.73L308.17 136.11L308.62 143.34L309.07 152.16L309.52 162.25L309.97 173.25L310.42 184.76L310.87 196.37L311.32 207.67L311.77 218.24L312.22 227.71L312.67 235.73L313.12 242.01L313.57 246.34L314.02 248.55L314.47 248.57L314.92 246.47L315.37 242.3L315.82 236.2L316.27 228.35L316.72 219L317.17 208.43L317.62 196.96L318.07 184.95L318.52 172.75L318.97 160.74L319.42 149.3L319.87 138.76L320.32 129.45L320.77 121.65L321.21 115.61L321.66 111.5L322.11 109.45L322.56 109.42L323.01 110.82L323.46 113.51L323.91 117.35L324.36 122.15L324.81 127.68L325.26 133.67L325.71 139.83L326.16 145.85L326.61 151.44L327.06 156.33L327.51 160.27L327.96 163.08L328.41 164.62L328.86 164.82L329.31 163.85L329.76 161.8L330.21 158.79L330.66 154.99L331.11 150.6L331.56 145.87L332.01 141.07L332.46 136.46L332.91 132.29L333.36 128.8L333.81 126.19L334.26 124.59L334.71 124.1L335.16 125.33L335.61 128.67L336.05 134.01L336.5 141.18L336.95 149.92L337.4 159.93L337.85 170.89L338.3 182.41L338.75 194.11L339.2 205.58L339.65 216.44L340.1 226.32L340.55 234.87L341 241.82L341.45 246.92L341.9 250L342.35 250.95L342.8 249.62L343.25 245.92L343.7 239.98L344.15 232L344.6 222.22L345.05 210.97L345.5 198.6L345.95 185.52L346.4 172.15L346.85 158.91L347.3 146.23L347.75 134.52L348.2 124.16L348.65 115.48L349.1 108.76L349.55 104.22L350 102.01L350.44 102.08L350.89 103.94L351.34 107.46L351.79 112.44L352.24 118.66L352.69 125.8L353.14 133.52L353.59 141.44L354.04 149.17L354.49 156.33L354.94 162.58L355.39 167.61L355.84 171.16L356.29 173.08L356.74 173.28L357.19 171.97L357.64 169.26L358.09 165.31L358.54 160.34L358.99 154.64L359.44 148.51L359.89 142.31L360.34 136.38L360.79 131.05L361.24 126.63L361.69 123.36L362.14 121.42L362.59 120.94L363.04 122.49L363.49 126.3L363.94 132.23L364.39 140.08L364.84 149.56L365.28 160.33L365.73 172L366.18 184.15L366.63 196.35L367.08 208.15L367.53 219.14L367.98 228.91L368.43 237.11L368.88 243.46L369.33 247.72L369.78 249.74L370.23 249.48L370.68 247.14L371.13 242.79L371.58 236.55L372.03 228.59L372.48 219.14L372.93 208.45L373.38 196.81L373.83 184.56L374.28 172.01L374.73 159.53L375.18 147.46L375.63 136.13L376.08 125.84L376.53 116.89L376.98 109.52L377.43 103.93L377.88 100.29L378.33 98.68L378.78 99.13L379.23 101.57L379.68 105.88L380.12 111.85L380.57 119.17L381.02 127.5L381.47 136.43L381.92 145.52L382.37 154.33L382.82 162.42L383.27 169.4L383.72 174.93L384.17 178.73L384.62 180.63L385.07 180.57L385.52 178.76L385.97 175.33L386.42 170.44L386.87 164.37L387.32 157.42L387.77 149.97L388.22 142.39L388.67 135.1L389.12 128.46L389.57 122.82L390.02 118.49L390.47 115.69L390.92 114.56L391.37 115.51L391.82 119.14L392.27 125.29L392.72 133.72L393.17 144.1L393.62 155.99L394.07 168.92L394.52 182.37L394.96 195.8L395.41 208.65L395.86 220.41L396.31 230.6L396.76 238.82L397.21 244.72L397.66 248.08L398.11 248.76L398.56 247.05L399.01 243.11L399.46 237.07L399.91 229.11L400.36 219.48L400.81 208.46L401.26 196.4L401.71 183.67L402.16 170.65L402.61 157.73L403.06 145.33L403.51 133.8L403.96 123.51L404.41 114.77L404.86 107.84L405.31 102.94L405.76 100.22L406.21 99.76L406.66 101.59L407.11 105.62L407.56 111.66L408.01 119.4L408.46 128.48L408.91 138.44L409.35 148.81L409.8 159.07L410.25 168.71L410.7 177.28L411.15 184.35L411.6 189.58L412.05 192.7L412.5 193.57L412.95 192.3L413.4 189.06L413.85 184.01L414.3 177.38L414.75 169.51L415.2 160.78L415.65 151.62L416.1 142.47L416.55 133.79L417 125.99L417.45 119.47L417.9 114.53L418.35 111.42L418.8 110.29L419.25 111.21L419.7 114.16L420.15 119.04L420.6 125.7L421.05 133.93L421.5 143.45L421.95 153.97L422.4 165.13L422.85 176.59L423.3 187.98L423.75 198.92L424.19 209.07L424.64 218.1L425.09 225.72L425.54 231.67L425.99 235.78L426.44 237.91L426.89 237.89L427.34 235.06L427.79 229.41L428.24 221.18L428.69 210.72L429.14 198.49L429.59 185.01L430.04 170.87L430.49 156.66L430.94 143L431.39 130.49L431.84 119.65L432.29 110.95L432.74 104.77L433.19 101.37L433.64 100.88L434.09 103.08L434.54 107.79L434.99 114.76L435.44 123.63L435.89 133.95L436.34 145.16L436.79 156.7L437.24 167.97L437.69 178.38L438.14 187.39L438.59 194.53L439.03 199.43L439.48 201.85L439.93 201.78L440.38 199.82L440.83 196.11L441.28 190.81L441.73 184.13L442.18 176.34L442.63 167.76L443.08 158.73L443.53 149.62L443.98 140.8L444.43 132.62L444.88 125.41L445.33 119.48L445.78 115.04L446.23 112.3L446.68 111.35L447.13 112.52L447.58 116.05L448.03 121.81L448.48 129.56L448.93 139L449.38 149.72L449.83 161.31L450.28 173.3L450.73 185.2L451.18 196.52L451.63 206.81L452.08 215.66L452.53 222.7L452.98 227.66L453.42 230.32L453.87 230.58L454.32 228.39L454.77 223.8L455.22 217L455.67 208.25L456.12 197.88L456.57 186.29L457.02 173.91L457.47 161.22L457.92 148.7L458.37 136.84L458.82 126.07L459.27 116.82L459.72 109.43L460.17 104.19L460.62 101.29L461.07 100.84L461.52 102.68L461.97 106.69L462.42 112.7L462.87 120.47L463.32 129.68L463.77 139.96L464.22 150.9L464.67 162.06L465.12 172.98L465.57 183.21L466.02 192.36L466.47 200.04L466.92 205.95L467.37 209.84L467.82 211.56L468.26 211.01L468.71 208.12L469.16 203.03L469.61 195.98L470.06 187.33L470.51 177.49L470.96 166.94L471.41 156.21L471.86 145.81L472.31 136.26L472.76 128.02L473.21 121.5L473.66 117.01L474.11 114.77L474.56 114.88L475.01 117.21L475.46 121.65L475.91 128.03L476.36 136.08L476.81 145.48L477.26 155.86L477.71 166.78L478.16 177.81L478.61 188.51L479.06 198.43L479.51 207.19L479.96 214.41L480.41 219.82L480.86 223.2L481.31 224.39L481.76 223.2L482.21 219.47L482.66 213.36L483.1 205.13L483.55 195.14L484 183.81L484.45 171.65L484.9 159.15L485.35 146.88L485.8 135.35L486.25 125.05L486.7 116.44L487.15 109.88L487.6 105.65L488.05 103.95L488.5 104.63L488.95 107.33L489.4 111.94L489.85 118.29L490.3 126.16L490.75 135.26L491.2 145.27L491.65 155.82L492.1 166.54L492.55 177.04L493 186.95L493.45 195.9L493.9 203.57L494.35 209.69L494.8 214.04L495.25 216.46L495.7 216.87L496.15 215.28L496.6 211.78L497.05 206.5L497.5 199.66L497.94 191.53L498.39 182.44L498.84 172.77L499.29 162.9L499.74 153.23L500.19 144.15L500.64 136.03L501.09 129.2L501.54 123.93L501.99 120.44L502.44 118.87L502.89 119.27L503.34 121.58L503.79 125.69L504.24 131.44L504.69 138.57L505.14 146.78L505.59 155.72L506.04 164.99L506.49 174.2L506.94 182.96L507.39 190.89L507.84 197.65L508.29 202.94L508.74 206.54L509.19 208.29L509.64 208.02L510.09 205.3L510.54 200.19L510.99 192.96L511.44 183.96L511.89 173.62L512.33 162.46L512.78 151.01L513.23 139.85L513.68 129.51L514.13 120.5L514.58 113.26L515.03 108.15L515.48 105.42L515.93 105.15L516.38 107.03L516.83 110.91L517.28 116.64L517.73 124.03L518.18 132.8L518.63 142.65L519.08 153.21L519.53 164.1L519.98 174.94L520.43 185.34L520.88 194.92L521.33 203.33L521.78 210.27L522.23 215.5L522.68 218.83L523.13 220.13L523.58 219.42L524.03 216.81L524.48 212.42L524.93 206.42L525.38 199.05L525.83 190.62L526.28 181.45L526.73 171.94L527.17 162.45L527.62 153.37L528.07 145.08L528.52 137.9L528.97 132.12L529.42 127.99L529.87 125.66L530.32 125.22L530.77 126.32L531.22 128.81L531.67 132.56L532.12 137.42L532.57 143.17L533.02 149.58L533.47 156.37L533.92 163.24L534.37 169.89L534.82 176.05L535.27 181.44L535.72 185.84L536.17 189.06L536.62 190.95L537.07 191.44L537.52 190.32L537.97 187.54L538.42 183.21L538.87 177.53L539.32 170.74L539.77 163.12L540.22 155L540.67 146.72L541.12 138.65L541.57 131.12L542.01 124.46L542.46 118.94L542.91 114.82L543.36 112.25L543.81 111.35L544.26 112.49L544.71 116L545.16 121.71L545.61 129.38L546.06 138.69L546.51 149.23L546.96 160.54L547.41 172.15L547.86 183.56L548.31 194.26L548.76 203.81L549.21 211.79L549.66 217.86L550.11 221.75L550.56 223.31L551.01 222.78L551.46 220.75L551.91 217.29L552.36 212.52L552.81 206.58L553.26 199.66L553.71 192L554.16 183.84L554.61 175.43L555.06 167.05L555.51 158.98L555.96 151.46L556.4 144.75L556.85 139.05L557.3 134.56L557.75 131.41L558.2 129.71L558.65 129.49L559.1 130.51L559.55 132.66L560 135.84L560.45 139.9L560.9 144.66L561.35 149.9L561.8 155.38L562.25 160.84L562.7 166.05L563.15 170.75L563.6 174.74L564.05 177.83L564.5 179.87L564.95 180.79L565.4 180.39L565.85 178.33L566.3 174.69L566.75 169.67L567.2 163.52L567.65 156.57L568.1 149.19L568.55 141.76L569 134.66L569.45 128.27L569.9 122.93L570.35 118.91L570.8 116.42L571.24 115.6L571.69 116.74L572.14 120.03L572.59 125.35L573.04 132.47L573.49 141.11L573.94 150.92L574.39 161.5L574.84 172.42L575.29 183.25L575.74 193.54L576.19 202.88L576.64 210.88L577.09 217.24L577.54 221.68L577.99 224.03L578.44 224.27L578.89 222.98L579.34 220.33L579.79 216.4L580.24 211.32L580.69 205.23L581.14 198.33L581.59 190.82L582.04 182.94L582.49 174.92L582.94 167.01L583.39 159.45L583.84 152.47L584.29 146.28L584.74 141.09L585.19 137.03L585.64 134.24L586.08 132.8L586.53 132.75L586.98 134.05L587.43 136.59L587.88 140.18L588.33 144.54L588.78 149.35L589.23 154.23L589.68 158.82L590.13 162.76L590.58 165.75L591.03 167.57L591.48 168.08L591.93 167.49L592.38 166L592.83 163.66L593.28 160.56L593.73 156.84L594.18 152.64L594.63 148.13L595.08 143.49L595.53 138.92L595.98 134.6L596.43 130.69L596.88 127.37L597.33 124.76L597.78 122.97L598.23 122.08L598.68 122.2L599.13 123.85L599.58 127.03L600.03 131.65L600.48 137.55L600.92 144.55L601.37 152.42L601.82 160.91L602.27 169.74L602.72 178.63L603.17 187.3L603.62 195.46L604.07 202.85L604.52 209.23L604.97 214.4L605.42 218.2L605.87 220.49L606.32 221.21L606.77 220.47L607.22 218.42L607.67 215.12L608.12 210.67L608.57 205.2L609.02 198.89L609.47 191.92L609.92 184.51L610.37 176.88L610.82 169.27L611.27 161.91L611.72 155.02L612.17 148.82L612.62 143.49L613.07 139.2L613.52 136.07L613.97 134.21L614.42 133.66L614.87 134.06L615.31 135.1L615.76 136.73L616.21 138.86L616.66 141.36L617.11 144.09L617.56 146.91L618.01 149.65L618.46 152.17L618.91 154.31L619.36 155.96L619.81 157.03L620.26 157.45L620.71 157.16L621.16 156.07L621.61 154.24L622.06 151.8L622.51 148.89L622.96 145.68L623.41 142.36L623.86 139.14L624.31 136.22L624.76 133.76L625.21 131.92L625.66 130.8L626.11 130.48L626.56 131.4L627.01 133.79L627.46 137.6L627.91 142.68L628.36 148.88L628.81 156.01L629.26 163.82L629.71 172.07L630.15 180.5L630.6 188.82L631.05 196.78L631.5 204.12L631.95 210.6L632.4 216L632.85 220.17L633.3 222.96L633.75 224.29L634.2 224.18L634.65 222.96L635.1 220.68L635.55 217.39L636 213.17L636.45 208.12L636.9 202.37L637.35 196.05L637.8 189.31L638.25 182.31L638.7 175.22L639.15 168.21L639.6 161.44L640.05 155.09L640.5 149.29L640.95 144.18L641.4 139.9L641.85 136.53L642.3 134.17L642.75 132.87L643.2 132.62L643.65 133L644.1 133.85L644.55 135.1L644.99 136.71L645.44 138.58L645.89 140.62L646.34 142.73L646.79 144.79L647.24 146.69L647.69 148.35L648.14 149.66L648.59 150.58L649.04 151.03L649.49 151.02L649.94 150.56L650.39 149.69L650.84 148.49L651.29 147.08L651.74 145.58L652.19 144.13L652.64 142.85L653.09 141.87L653.54 141.27L653.99 141.11L654.44 141.85L654.89 143.71L655.34 146.65L655.79 150.58L656.24 155.41L656.69 160.98L657.14 167.16L657.59 173.76L658.04 180.61L658.49 187.52L658.94 194.3L659.38 200.76L659.83 206.73L660.28 212.03L660.73 216.53L661.18 220.09L661.63 222.63L662.08 224.07L662.53 224.36L662.98 223.39L663.43 221.14L663.88 217.67L664.33 213.08L664.78 207.49L665.23 201.06L665.68 193.96L666.13 186.39L666.58 178.56L667.03 170.68L667.48 162.98L667.93 155.66L668.38 148.93L668.83 142.96L669.28 137.93L669.73 133.98L670.18 131.21L670.63 129.7L671.08 129.44L671.53 129.91L671.98 130.91L672.43 132.39L672.88 134.28L673.33 136.48L673.78 138.9L674.22 141.41L674.67 143.89L675.12 146.22L675.57 148.28L676.02 149.98L676.47 151.22L676.92 151.95L677.37 152.15L677.82 151.99L678.27 151.61L678.72 151.03L679.17 150.31L679.62 149.5L680.07 148.68L680.52 147.9L680.97 147.24L681.42 146.75L681.87 146.47L682.32 146.46L682.77 147.35L683.22 149.34L683.67 152.37L684.12 156.34L684.57 161.13L685.02 166.6L685.47 172.58L685.92 178.89L686.37 185.32L686.82 191.7L687.27 197.82L687.72 203.49L688.17 208.55L688.62 212.84L689.06 216.22L689.51 218.6L689.96 219.9L690.41 220.08L690.86 219.04L691.31 216.78L691.76 213.38L692.21 208.9L692.66 203.46L693.11 197.19L693.56 190.26L694.01 182.84L694.46 175.11L694.91 167.26L695.36 159.5L695.81 152.01L696.26 144.99L696.71 138.6L697.16 133.01L697.61 128.36L698.06 124.77L698.51 122.32L698.96 121.07L699.41 120.99L699.86 121.64L700.31 122.91L700.76 124.75L701.21 127.09L701.66 129.83L702.11 132.87L702.56 136.07L703.01 139.32L703.46 142.47L703.9 145.41L704.35 148.01L704.8 150.16L705.25 151.79L705.7 152.82L706.15 153.21L706.6 153.11L707.05 152.75L707.5 152.18L707.95 151.44L708.4 150.6L708.85 149.74L709.3 148.93L709.75 148.25L710.2 147.76L710.65 147.51L711.1 147.64L711.55 148.95L712 151.51L712.45 155.23L712.9 159.98L713.35 165.59L713.8 171.85L714.25 178.54L714.7 185.43L715.15 192.25L715.6 198.77L716.05 204.76L716.5 209.99L716.95 214.27L717.4 217.47L717.85 219.45L718.29 220.15L718.74 219.47L719.19 217.36L719.64 213.86L720.09 209.09L720.54 203.16L720.99 196.25L721.44 188.54L721.89 180.25L722.34 171.6L722.79 162.83L723.24 154.19L723.69 145.91L724.14 138.22L724.59 131.33L725.04 125.44L725.49 120.7L725.94 117.25L726.39 115.17L726.84 114.54L727.29 115L727.74 116.25L728.19 118.24L728.64 120.92L729.09 124.18L729.54 127.9L729.99 131.95L730.44 136.18L730.89 140.45L731.34 144.59L731.79 148.46L732.24 151.93L732.69 154.85L733.13 157.14L733.58 158.71L734.03 159.49L734.48 159.5L734.93 158.88L735.38 157.69L735.83 156.03L736.28 154L736.73 151.76L737.18 149.45L737.63 147.24L738.08 145.29L738.53 143.72L738.98 142.67L739.43 142.19L739.88 142.53L740.33 144.26L740.78 147.36L741.23 151.71L741.68 157.16L742.13 163.51L742.58 170.54L743.03 177.98L743.48 185.58L743.93 193.06L744.38 200.14L744.83 206.58L745.28 212.15L745.73 216.63L746.18 219.88L746.63 221.78L747.08 222.24L747.53 220.9L747.97 217.6L748.42 212.47L748.87 205.66L749.32 197.42L749.77 188.02L750.22 177.78L750.67 167.04L751.12 156.17L751.57 145.53L752.02 135.49L752.47 126.38L752.92 118.5L753.37 112.14L753.82 107.49L754.27 104.72L754.72 103.92L755.17 104.86L755.62 107.33L756.07 111.19L756.52 116.27L756.97 122.32L757.42 129.03L757.87 136.09L758.32 143.14L758.77 149.84L759.22 155.87L759.67 160.92L760.12 164.75L760.57 167.18L761.02 168.08L761.47 167.73L761.92 166.54L762.36 164.59L762.81 161.98L763.26 158.81L763.71 155.26L764.16 151.5L764.61 147.7L765.06 144.06L765.51 140.75L765.96 137.94L766.41 135.76L766.86 134.32L767.31 133.69L767.76 134.18L768.21 136.45L768.66 140.44L769.11 146L769.56 152.89L770.01 160.84L770.46 169.52L770.91 178.59L771.36 187.68L771.81 196.41L772.26 204.45L772.71 211.45L773.16 217.15L773.61 221.3L774.06 223.74L774.51 224.37L774.96 222.94L775.41 219.37L775.86 213.8L776.31 206.43L776.76 197.51L777.2 187.38L777.65 176.39L778.1 164.94L778.55 153.44L779 142.31L779.45 131.95L779.9 122.73L780.35 114.97L780.8 108.97L781.25 104.94L781.7 103.01L782.15 103.17L782.6 105.03L783.05 108.47L783.5 113.35L783.95 119.45L784.4 126.52L784.85 134.24L785.3 142.3L785.75 150.33L786.2 158L786.65 164.97L787.1 170.95L787.55 175.67L788 178.95L788.45 180.62L788.9 180.66L789.35 179.26L789.8 176.53L790.25 172.59L790.7 167.64L791.15 161.92L791.6 155.72L792.04 149.33L792.49 143.07L792.94 137.24L793.39 132.13L793.84 127.99L794.29 125.02L794.74 123.36L795.19 123.14L795.64 124.84L796.09 128.53L796.54 134.07L796.99 141.24L797.44 149.74L797.89 159.23L798.34 169.33L798.79 179.63L799.24 189.71L799.69 199.17L800.14 207.62L800.59 214.72L801.04 220.18L801.49 223.78L801.94 225.38L802.39 224.92L802.84 222.46L803.29 218.06L803.74 211.88L804.19 204.11L804.64 195L805.09 184.85L805.54 173.98L805.99 162.74L806.43 151.49L806.88 140.61L807.33 130.43L807.78 121.28L808.23 113.46L808.68 107.23L809.13 102.77L809.58 100.24L810.03 99.73L810.48 101.47L810.93 105.47L811.38 111.54L811.83 119.37L812.28 128.59L812.73 138.74L813.18 149.33L813.63 159.84L814.08 169.75L814.53 178.59L814.98 185.91L815.43 191.37L815.88 194.69L816.33 195.71L816.78 194.74L817.23 192.11L817.68 187.91L818.13 182.33L818.58 175.58L819.03 167.94L819.48 159.71L819.93 151.24L820.38 142.86L820.83 134.91L821.27 127.71L821.72 121.56L822.17 116.7L822.62 113.33L823.07 111.59L823.52 111.61L823.97 113.84L824.42 118.29L824.87 124.76L825.32 132.99L825.77 142.66L826.22 153.37L826.67 164.69L827.12 176.15L827.57 187.31L828.02 197.7L828.47 206.9L828.92 214.55L829.37 220.33L829.82 224.01L830.27 225.44L830.72 224.41L831.17 220.72L831.62 214.54L832.07 206.11L832.52 195.81L832.97 184.08L833.42 171.43L833.87 158.4L834.32 145.54L834.77 133.42L835.22 122.54L835.67 113.4L836.11 106.36L836.56 101.74L837.01 99.74L837.46 100.34L837.91 103.29L838.36 108.44L838.81 115.58L839.26 124.39L839.71 134.5L840.16 145.48L840.61 156.85L841.06 168.12L841.51 178.81L841.96 188.46L842.41 196.65L842.86 203.04L843.31 207.34L843.76 209.37L844.21 209.11L844.66 206.82L845.11 202.61L845.56 196.65L846.01 189.18L846.46 180.51L846.91 170.98L847.36 160.98L847.81 150.92L848.26 141.2L848.71 132.21L849.16 124.33L849.61 117.86L850.06 113.07L850.51 110.15L850.95 109.23L851.4 110.72L851.85 114.88L852.3 121.52L852.75 130.33L853.2 140.88L853.65 152.68L854.1 165.17L854.55 177.77L855 189.87L855.45 200.91L855.9 210.36L856.35 217.79L856.8 222.83L857.25 225.25L857.7 225.06L858.15 222.69L858.6 218.28L859.05 211.97L859.5 203.98L859.95 194.59L860.4 184.1L860.85 172.88L861.3 161.31L861.75 149.79L862.2 138.7L862.65 128.42L863.1 119.3L863.55 111.65L864 105.73L864.45 101.75L864.9 99.83L865.34 100.14L865.79 103L866.24 108.33L866.69 115.9L867.14 125.38L867.59 136.38L868.04 148.41L868.49 160.96L868.94 173.48L869.39 185.44L869.84 196.33L870.29 205.67L870.74 213.07L871.19 218.21L871.64 220.86L872.09 220.92L872.54 218.48L872.99 213.66L873.44 206.66L873.89 197.79L874.34 187.43L874.79 176.02L875.24 164.06L875.69 152.05L876.14 140.52L876.59 129.96L877.04 120.82L877.49 113.5L877.94 108.32L878.39 105.49L878.84 105.15L879.29 107.47L879.74 112.39L880.18 119.65L880.63 128.91L881.08 139.71L881.53 151.52L881.98 163.77L882.43 175.86L882.88 187.19L883.33 197.22L883.78 205.44L884.23 211.46L884.68 214.99L885.13 215.86L885.58 214.19L886.03 210.16L886.48 203.92L886.93 195.73L887.38 185.92L887.83 174.89L888.28 163.08L888.73 150.96L889.18 139.04L889.63 127.79L890.08 117.66L890.53 109.08L890.98 102.37L891.43 97.83L891.88 95.62L892.33 95.84L892.78 98.52L893.23 103.57L893.68 110.79L894.13 119.93L894.58 130.66L895.02 142.6L895.47 155.31L895.92 168.34L896.37 181.22L896.82 193.49L897.27 204.7L897.72 214.45L898.17 222.39L898.62 228.24L899.07 231.78L899.52 232.89L899.97 231.36L900.42 227.13L900.87 220.36L901.32 211.37L901.77 200.52L902.22 188.29L902.67 175.21L903.12 161.84L903.57 148.74L904.02 136.5L904.47 125.62L904.92 116.59L905.37 109.78L905.82 105.5L906.27 103.92L906.72 104.78L907.17 107.62L907.62 112.31L908.07 118.67L908.52 126.44L908.97 135.31L909.41 144.91L909.86 154.87L910.31 164.77L910.76 174.21L911.21 182.82L911.66 190.24L912.11 196.18L912.56 200.39L913.01 202.71L913.46 203L913.91 200.85L914.36 196.22L914.81 189.35L915.26 180.58L915.71 170.32L916.16 159.09L916.61 147.43L917.06 135.91L917.51 125.1L917.96 115.52L918.41 107.65L918.86 101.86L919.31 98.45L919.76 97.57L920.21 99.29L920.66 103.56L921.11 110.21L921.56 119.02L922.01 129.66L922.46 141.75L922.91 154.86L923.36 168.51L923.81 182.21L924.25 195.48L924.7 207.83L925.15 218.82L925.6 228.05L926.05 235.19L926.5 239.99L926.95 242.27L927.4 242.14L927.85 240.33L928.3 237.12L928.75 232.85L929.2 227.99L929.65 223.08L930.1 218.64L930.55 215.18L931 213.06L931.45 212.5" fill="none" stroke="#0000ff" stroke-width="2.08" stroke-linecap="square" stroke-linejoin="round" clip-path="url(#c0)"/>
<path d="M122.45 165.75L122.9 165.51L123.35 164.51L123.8 162.79L124.25 160.48L124.7 157.71L125.15 154.67L125.6 151.55L126.05 148.57L126.5 145.91L126.95 143.74L127.4 142.21L127.85 141.41L128.3 141.4L128.75 142.12L129.2 143.54L129.65 145.59L130.09 148.19L130.54 151.23L130.99 154.57L131.44 158.07L131.89 161.58L132.34 164.95L132.79 168.04L133.24 170.7L133.69 172.84L134.14 174.35L134.59 175.17L135.04 175.28L135.49 174.93L135.94 174.18L136.39 173.07L136.84 171.61L137.29 169.87L137.74 167.88L138.19 165.71L138.64 163.44L139.09 161.12L139.54 158.82L139.99 156.63L140.44 154.6L140.89 152.8L141.34 151.28L141.79 150.08L142.24 149.26L142.69 148.82L143.14 148.8L143.59 149.29L144.04 150.3L144.49 151.76L144.93 153.58L145.38 155.65L145.83 157.86L146.28 160.06L146.73 162.12L147.18 163.92L147.63 165.35L148.08 166.32L148.53 166.78L148.98 166.71L149.43 166.2L149.88 165.27L150.33 163.94L150.78 162.25L151.23 160.27L151.68 158.05L152.13 155.68L152.58 153.21L153.03 150.74L153.48 148.34L153.93 146.09L154.38 144.06L154.83 142.33L155.28 140.93L155.73 139.92L156.18 139.34L156.63 139.2L157.08 139.76L157.53 141.12L157.98 143.22L158.43 145.95L158.88 149.19L159.32 152.76L159.77 156.51L160.22 160.23L160.67 163.76L161.12 166.92L161.57 169.56L162.02 171.54L162.47 172.77L162.92 173.19L163.37 172.96L163.82 172.29L164.27 171.2L164.72 169.73L165.17 167.92L165.62 165.84L166.07 163.56L166.52 161.15L166.97 158.7L167.42 156.29L167.87 154.01L168.32 151.92L168.77 150.11L169.22 148.63L169.67 147.53L170.12 146.86L170.57 146.62L171.02 146.89L171.47 147.69L171.92 148.98L172.37 150.7L172.82 152.77L173.27 155.08L173.72 157.53L174.16 159.98L174.61 162.33L175.06 164.46L175.51 166.26L175.96 167.65L176.41 168.55L176.86 168.93L177.31 168.8L177.76 168.25L178.21 167.31L178.66 166.01L179.11 164.39L179.56 162.51L180.01 160.45L180.46 158.27L180.91 156.05L181.36 153.88L181.81 151.82L182.26 149.97L182.71 148.37L183.16 147.1L183.61 146.19L184.06 145.67L184.51 145.59L184.96 146.15L185.41 147.42L185.86 149.34L186.31 151.83L186.76 154.78L187.21 158.06L187.66 161.54L188.11 165.06L188.56 168.48L189 171.64L189.45 174.41L189.9 176.67L190.35 178.32L190.8 179.3L191.25 179.55L191.7 179.22L192.15 178.38L192.6 177.08L193.05 175.36L193.5 173.29L193.95 170.96L194.4 168.47L194.85 165.9L195.3 163.38L195.75 160.99L196.2 158.84L196.65 157.01L197.1 155.57L197.55 154.6L198 154.11L198.45 154.14L198.9 154.67L199.35 155.67L199.8 157.11L200.25 158.92L200.7 161.02L201.15 163.33L201.6 165.74L202.05 168.15L202.5 170.46L202.95 172.56L203.39 174.37L203.84 175.82L204.29 176.82L204.74 177.35L205.19 177.41L205.64 177.14L206.09 176.58L206.54 175.76L206.99 174.7L207.44 173.43L207.89 171.99L208.34 170.42L208.79 168.78L209.24 167.11L209.69 165.46L210.14 163.89L210.59 162.43L211.04 161.15L211.49 160.07L211.94 159.23L212.39 158.65L212.84 158.35L213.29 158.39L213.74 159.08L214.19 160.42L214.64 162.34L215.09 164.73L215.54 167.43L215.99 170.29L216.44 173.13L216.89 175.78L217.34 178.08L217.79 179.89L218.23 181.11L218.68 181.66L219.13 181.57L219.58 181.04L220.03 180.09L220.48 178.76L220.93 177.09L221.38 175.15L221.83 173.01L222.28 170.74L222.73 168.42L223.18 166.14L223.63 163.98L224.08 162.02L224.53 160.32L224.98 158.96L225.43 157.97L225.88 157.4L226.33 157.26L226.78 157.58L227.23 158.37L227.68 159.58L228.13 161.17L228.58 163.07L229.03 165.2L229.48 167.46L229.93 169.77L230.38 172.01L230.83 174.1L231.28 175.95L231.73 177.48L232.18 178.62L232.63 179.32L233.07 179.56L233.52 179.44L233.97 179.09L234.42 178.51L234.87 177.72L235.32 176.76L235.77 175.64L236.22 174.41L236.67 173.11L237.12 171.78L237.57 170.46L238.02 169.19L238.47 168.01L238.92 166.97L239.37 166.1L239.82 165.41L240.27 164.95L240.72 164.71L241.17 164.78L241.62 165.45L242.07 166.75L242.52 168.57L242.97 170.79L243.42 173.26L243.87 175.79L244.32 178.22L244.77 180.36L245.22 182.08L245.67 183.25L246.12 183.78L246.57 183.72L247.02 183.26L247.47 182.44L247.91 181.28L248.36 179.8L248.81 178.06L249.26 176.09L249.71 173.95L250.16 171.71L250.61 169.42L251.06 167.14L251.51 164.95L251.96 162.89L252.41 161.03L252.86 159.41L253.31 158.09L253.76 157.1L254.21 156.46L254.66 156.19L255.11 156.37L255.56 157.11L256.01 158.37L256.46 160.12L256.91 162.26L257.36 164.72L257.81 167.38L258.26 170.13L258.71 172.85L259.16 175.43L259.61 177.75L260.06 179.71L260.51 181.24L260.96 182.25L261.41 182.72L261.86 182.67L262.3 182.29L262.75 181.6L263.2 180.62L263.65 179.39L264.1 177.95L264.55 176.35L265 174.64L265.45 172.88L265.9 171.13L266.35 169.45L266.8 167.89L267.25 166.52L267.7 165.38L268.15 164.49L268.6 163.91L269.05 163.64L269.5 163.68L269.95 163.95L270.4 164.44L270.85 165.12L271.3 165.96L271.75 166.93L272.2 167.96L272.65 169.02L273.1 170.05L273.55 170.99L274 171.81L274.45 172.47L274.9 172.92L275.35 173.16L275.8 173.13L276.25 172.7L276.7 171.86L277.14 170.64L277.59 169.1L278.04 167.29L278.49 165.31L278.94 163.23L279.39 161.15L279.84 159.15L280.29 157.31L280.74 155.73L281.19 154.47L281.64 153.57L282.09 153.08L282.54 153.03L282.99 153.39L283.44 154.17L283.89 155.32L284.34 156.8L284.79 158.57L285.24 160.57L285.69 162.7L286.14 164.92L286.59 167.12L287.04 169.23L287.49 171.18L287.94 172.9L288.39 174.32L288.84 175.4L289.29 176.09L289.74 176.37L290.19 176.3L290.64 176.01L291.09 175.5L291.54 174.81L291.98 173.94L292.43 172.91L292.88 171.76L293.33 170.52L293.78 169.22L294.23 167.9L294.68 166.59L295.13 165.33L295.58 164.16L296.03 163.1L296.48 162.19L296.93 161.45L297.38 160.9L297.83 160.56L298.28 160.44L298.73 160.59L299.18 161.08L299.63 161.87L300.08 162.9L300.53 164.07L300.98 165.3L301.43 166.47L301.88 167.5L302.33 168.29L302.78 168.78L303.23 168.93L303.68 168.77L304.13 168.34L304.58 167.64L305.03 166.71L305.48 165.58L305.93 164.29L306.37 162.9L306.82 161.45L307.27 160.01L307.72 158.62L308.17 157.34L308.62 156.22L309.07 155.31L309.52 154.62L309.97 154.2L310.42 154.06L310.87 154.3L311.32 155.03L311.77 156.2L312.22 157.8L312.67 159.75L313.12 162L313.57 164.46L314.02 167.06L314.47 169.71L314.92 172.31L315.37 174.78L315.82 177.03L316.27 178.99L316.72 180.58L317.17 181.77L317.62 182.5L318.07 182.75L318.52 182.6L318.97 182.15L319.42 181.41L319.87 180.39L320.32 179.13L320.77 177.66L321.21 176.01L321.66 174.21L322.11 172.33L322.56 170.4L323.01 168.48L323.46 166.61L323.91 164.83L324.36 163.2L324.81 161.75L325.26 160.52L325.71 159.54L326.16 158.84L326.61 158.42L327.06 158.31L327.51 158.53L327.96 159.06L328.41 159.88L328.86 160.93L329.31 162.13L329.76 163.39L330.21 164.63L330.66 165.77L331.11 166.72L331.56 167.41L332.01 167.8L332.46 167.85L332.91 167.55L333.36 166.91L333.81 165.94L334.26 164.7L334.71 163.25L335.16 161.64L335.61 159.95L336.05 158.26L336.5 156.65L336.95 155.18L337.4 153.93L337.85 152.94L338.3 152.28L338.75 151.96L339.2 152.04L339.65 152.64L340.1 153.74L340.55 155.31L341 157.28L341.45 159.57L341.9 162.09L342.35 164.74L342.8 167.4L343.25 169.98L343.7 172.37L344.15 174.46L344.6 176.18L345.05 177.46L345.5 178.24L345.95 178.5L346.4 178.35L346.85 177.93L347.3 177.25L347.75 176.32L348.2 175.18L348.65 173.85L349.1 172.37L349.55 170.77L350 169.12L350.44 167.44L350.89 165.79L351.34 164.22L351.79 162.76L352.24 161.45L352.69 160.33L353.14 159.44L353.59 158.8L354.04 158.42L354.49 158.31L354.94 158.59L355.39 159.3L355.84 160.39L356.29 161.77L356.74 163.37L357.19 165.05L357.64 166.71L358.09 168.23L358.54 169.5L358.99 170.43L359.44 170.95L359.89 171.05L360.34 170.84L360.79 170.38L361.24 169.67L361.69 168.76L362.14 167.65L362.59 166.39L363.04 165.01L363.49 163.55L363.94 162.07L364.39 160.6L364.84 159.19L365.28 157.88L365.73 156.72L366.18 155.73L366.63 154.96L367.08 154.41L367.53 154.12L367.98 154.12L368.43 154.85L368.88 156.4L369.33 158.68L369.78 161.54L370.23 164.82L370.68 168.31L371.13 171.81L371.58 175.11L372.03 178L372.48 180.31L372.93 181.9L373.38 182.68L373.83 182.69L374.28 182.34L374.73 181.68L375.18 180.72L375.63 179.5L376.08 178.05L376.53 176.4L376.98 174.61L377.43 172.72L377.88 170.78L378.33 168.85L378.78 166.98L379.23 165.23L379.68 163.63L380.12 162.24L380.57 161.09L381.02 160.22L381.47 159.65L381.92 159.39L382.37 159.49L382.82 160.06L383.27 161.06L383.72 162.4L384.17 163.98L384.62 165.66L385.07 167.3L385.52 168.77L385.97 169.94L386.42 170.73L386.87 171.05L387.32 170.96L387.77 170.58L388.22 169.91L388.67 168.98L389.12 167.81L389.57 166.43L390.02 164.88L390.47 163.18L390.92 161.39L391.37 159.55L391.82 157.71L392.27 155.91L392.72 154.19L393.17 152.6L393.62 151.19L394.07 149.97L394.52 149L394.96 148.28L395.41 147.84L395.86 147.69L396.31 148.03L396.76 149.09L397.21 150.81L397.66 153.11L398.11 155.86L398.56 158.94L399.01 162.2L399.46 165.48L399.91 168.61L400.36 171.45L400.81 173.86L401.26 175.71L401.71 176.92L402.16 177.42L402.61 177.31L403.06 176.79L403.51 175.89L403.96 174.65L404.41 173.1L404.86 171.32L405.31 169.35L405.76 167.26L406.21 165.15L406.66 163.07L407.11 161.11L407.56 159.34L408.01 157.82L408.46 156.6L408.91 155.72L409.35 155.23L409.8 155.14L410.25 155.56L410.7 156.5L411.15 157.92L411.6 159.75L412.05 161.89L412.5 164.26L412.95 166.72L413.4 169.16L413.85 171.45L414.3 173.5L414.75 175.19L415.2 176.45L415.65 177.21L416.1 177.43L416.55 177.17L417 176.49L417.45 175.39L417.9 173.93L418.35 172.16L418.8 170.13L419.25 167.93L419.7 165.64L420.15 163.32L420.6 161.08L421.05 158.98L421.5 157.11L421.95 155.53L422.4 154.3L422.85 153.46L423.3 153.04L423.75 153.09L424.19 153.71L424.64 154.89L425.09 156.56L425.54 158.62L425.99 160.96L426.44 163.46L426.89 165.96L427.34 168.33L427.79 170.44L428.24 172.17L428.69 173.41L429.14 174.11L429.59 174.23L430.04 173.97L430.49 173.4L430.94 172.53L431.39 171.38L431.84 169.99L432.29 168.38L432.74 166.61L433.19 164.7L433.64 162.71L434.09 160.7L434.54 158.7L434.99 156.78L435.44 154.97L435.89 153.32L436.34 151.88L436.79 150.68L437.24 149.75L437.69 149.12L438.14 148.79L438.59 148.85L439.03 149.7L439.48 151.36L439.93 153.7L440.38 156.56L440.83 159.7L441.28 162.9L441.73 165.92L442.18 168.52L442.63 170.51L443.08 171.74L443.53 172.12L443.98 171.9L444.43 171.29L444.88 170.33L445.33 169.02L445.78 167.43L446.23 165.58L446.68 163.55L447.13 161.39L447.58 159.17L448.03 156.95L448.48 154.81L448.93 152.81L449.38 151L449.83 149.46L450.28 148.21L450.73 147.31L451.18 146.78L451.63 146.63L452.08 147.16L452.53 148.52L452.98 150.64L453.42 153.38L453.87 156.57L454.32 160.03L454.77 163.55L455.22 166.91L455.67 169.91L456.12 172.38L456.57 174.15L457.02 175.13L457.47 175.28L457.92 174.91L458.37 174.11L458.82 172.91L459.27 171.36L459.72 169.51L460.17 167.43L460.62 165.2L461.07 162.89L461.52 160.59L461.97 158.37L462.42 156.33L462.87 154.53L463.32 153.04L463.77 151.91L464.22 151.18L464.67 150.88L465.12 151.09L465.57 151.94L466.02 153.38L466.47 155.35L466.92 157.75L467.37 160.47L467.82 163.36L468.26 166.29L468.71 169.12L469.16 171.71L469.61 173.92L470.06 175.66L470.51 176.84L470.96 177.39L471.41 177.34L471.86 176.83L472.31 175.87L472.76 174.52L473.21 172.79L473.66 170.76L474.11 168.47L474.56 166.01L475.01 163.43L475.46 160.84L475.91 158.29L476.36 155.88L476.81 153.67L477.26 151.73L477.71 150.12L478.16 148.89L478.61 148.08L479.06 147.71L479.51 147.87L479.96 148.79L480.41 150.43L480.86 152.71L481.31 155.53L481.76 158.75L482.21 162.2L482.66 165.73L483.1 169.15L483.55 172.3L484 175.03L484.45 177.19L484.9 178.7L485.35 179.47L485.8 179.5L486.25 179.03L486.7 178.12L487.15 176.79L487.6 175.11L488.05 173.13L488.5 170.93L488.95 168.59L489.4 166.2L489.85 163.86L490.3 161.65L490.75 159.66L491.2 157.96L491.65 156.62L492.1 155.68L492.55 155.2L493 155.2L493.45 155.93L493.9 157.38L494.35 159.49L494.8 162.12L495.25 165.14L495.7 168.37L496.15 171.63L496.6 174.74L497.05 177.53L497.5 179.83L497.94 181.52L498.39 182.51L498.84 182.74L499.29 182.42L499.74 181.68L500.19 180.53L500.64 179L501.09 177.13L501.54 174.98L501.99 172.6L502.44 170.07L502.89 167.44L503.34 164.8L503.79 162.21L504.24 159.75L504.69 157.48L505.14 155.47L505.59 153.78L506.04 152.44L506.49 151.5L506.94 150.98L507.39 150.92L507.84 151.71L508.29 153.4L508.74 155.89L509.19 159L509.64 162.51L510.09 166.17L510.54 169.73L510.99 172.93L511.44 175.55L511.89 177.41L512.33 178.37L512.78 178.45L513.23 178.04L513.68 177.23L514.13 176.06L514.58 174.55L515.03 172.77L515.48 170.75L515.93 168.57L516.38 166.31L516.83 164.02L517.28 161.79L517.73 159.69L518.18 157.78L518.63 156.13L519.08 154.79L519.53 153.8L519.98 153.2L520.43 153L520.88 153.37L521.33 154.46L521.78 156.2L522.23 158.51L522.68 161.28L523.13 164.37L523.58 167.63L524.03 170.91L524.48 174.03L524.93 176.86L525.38 179.24L525.83 181.07L526.28 182.26L526.73 182.74L527.17 182.58L527.62 181.93L528.07 180.82L528.52 179.29L528.97 177.37L529.42 175.13L529.87 172.64L530.32 169.97L530.77 167.2L531.22 164.42L531.67 161.71L532.12 159.16L532.57 156.85L533.02 154.83L533.47 153.19L533.92 151.95L534.37 151.18L534.82 150.88L535.27 151.12L535.72 151.97L536.17 153.39L536.62 155.29L537.07 157.57L537.52 160.1L537.97 162.74L538.42 165.34L538.87 167.75L539.32 169.84L539.77 171.5L540.22 172.62L540.67 173.15L541.12 173.06L541.57 172.39L542.01 171.18L542.46 169.45L542.91 167.28L543.36 164.75L543.81 161.96L544.26 159.02L544.71 156.02L545.16 153.09L545.61 150.34L546.06 147.87L546.51 145.77L546.96 144.13L547.41 143.01L547.86 142.44L548.31 142.47L548.76 143.17L549.21 144.53L549.66 146.5L550.11 148.99L550.56 151.93L551.01 155.18L551.46 158.64L551.91 162.17L552.36 165.63L552.81 168.89L553.26 171.83L553.71 174.34L554.16 176.31L554.61 177.68L555.06 178.4L555.51 178.43L555.96 177.82L556.4 176.58L556.85 174.78L557.3 172.49L557.75 169.8L558.2 166.81L558.65 163.65L559.1 160.44L559.55 157.33L560 154.42L560.45 151.84L560.9 149.7L561.35 148.08L561.8 147.04L562.25 146.63L562.7 146.82L563.15 147.51L563.6 148.69L564.05 150.3L564.5 152.27L564.95 154.53L565.4 156.99L565.85 159.55L566.3 162.09L566.75 164.53L567.2 166.76L567.65 168.69L568.1 170.24L568.55 171.36L569 171.99L569.45 172.11L569.9 171.74L570.35 170.9L570.8 169.64L571.24 168.01L571.69 166.08L572.14 163.92L572.59 161.64L573.04 159.33L573.49 157.09L573.94 155.01L574.39 153.19L574.84 151.71L575.29 150.62L575.74 149.98L576.19 149.82L576.64 150.21L577.09 151.21L577.54 152.76L577.99 154.82L578.44 157.32L578.89 160.15L579.34 163.22L579.79 166.43L580.24 169.64L580.69 172.75L581.14 175.66L581.59 178.24L582.04 180.41L582.49 182.09L582.94 183.22L583.39 183.76L583.84 183.72L584.29 183.22L584.74 182.27L585.19 180.93L585.64 179.22L586.08 177.23L586.53 175.01L586.98 172.65L587.43 170.23L587.88 167.85L588.33 165.57L588.78 163.5L589.23 161.7L589.68 160.23L590.13 159.16L590.58 158.51L591.03 158.31L591.48 158.59L591.93 159.36L592.38 160.56L592.83 162.15L593.28 164.04L593.73 166.15L594.18 168.37L594.63 170.59L595.08 172.7L595.53 174.6L595.98 176.2L596.43 177.42L596.88 178.2L597.33 178.5L597.78 178.31L598.23 177.67L598.68 176.59L599.13 175.15L599.58 173.4L600.03 171.43L600.48 169.34L600.92 167.23L601.37 165.2L601.82 163.36L602.27 161.79L602.72 160.57L603.17 159.75L603.62 159.39L604.07 159.51L604.52 160.14L604.97 161.25L605.42 162.79L605.87 164.68L606.32 166.83L606.77 169.13L607.22 171.48L607.67 173.76L608.12 175.85L608.57 177.66L609.02 179.09L609.47 180.07L609.92 180.57L610.37 180.57L610.82 180.18L611.27 179.43L611.72 178.34L612.17 176.94L612.62 175.25L613.07 173.33L613.52 171.22L613.97 168.97L614.42 166.64L614.87 164.29L615.31 161.97L615.76 159.75L616.21 157.68L616.66 155.81L617.11 154.19L617.56 152.86L618.01 151.85L618.46 151.19L618.91 150.89L619.36 150.97L619.81 151.43L620.26 152.24L620.71 153.37L621.16 154.74L621.61 156.29L622.06 157.92L622.51 159.54L622.96 161.06L623.41 162.4L623.86 163.47L624.31 164.23L624.76 164.63L625.21 164.65L625.66 164.37L626.11 163.8L626.56 162.97L627.01 161.92L627.46 160.69L627.91 159.33L628.36 157.91L628.81 156.49L629.26 155.11L629.71 153.86L630.15 152.77L630.6 151.9L631.05 151.28L631.5 150.94L631.95 150.9L632.4 151.27L632.85 152.05L633.3 153.23L633.75 154.77L634.2 156.6L634.65 158.67L635.1 160.92L635.55 163.25L636 165.6L636.45 167.88L636.9 170.01L637.35 171.93L637.8 173.56L638.25 174.86L638.7 175.78L639.15 176.28L639.6 176.36L640.05 176.11L640.5 175.58L640.95 174.78L641.4 173.73L641.85 172.45L642.3 170.97L642.75 169.34L643.2 167.59L643.65 165.77L644.1 163.92L644.55 162.09L644.99 160.33L645.44 158.67L645.89 157.17L646.34 155.85L646.79 154.76L647.24 153.91L647.69 153.33L648.14 153.04L648.59 153.06L649.04 153.57L649.49 154.56L649.94 155.95L650.39 157.64L650.84 159.5L651.29 161.39L651.74 163.17L652.19 164.7L652.64 165.87L653.09 166.59L653.54 166.81L653.99 166.67L654.44 166.31L654.89 165.73L655.34 164.98L655.79 164.08L656.24 163.08L656.69 162.03L657.14 160.98L657.59 159.98L658.04 159.08L658.49 158.33L658.94 157.75L659.38 157.39L659.83 157.25L660.28 157.45L660.73 158.12L661.18 159.23L661.63 160.73L662.08 162.57L662.53 164.66L662.98 166.9L663.43 169.22L663.88 171.49L664.33 173.64L664.78 175.56L665.23 177.17L665.68 178.4L666.13 179.21L666.58 179.55L667.03 179.47L667.48 179.09L667.93 178.44L668.38 177.52L668.83 176.37L669.28 175.01L669.73 173.48L670.18 171.83L670.63 170.1L671.08 168.34L671.53 166.59L671.98 164.91L672.43 163.34L672.88 161.92L673.33 160.7L673.78 159.7L674.22 158.96L674.67 158.49L675.12 158.31L675.57 158.45L676.02 158.92L676.47 159.71L676.92 160.79L677.37 162.11L677.82 163.62L678.27 165.26L678.72 166.97L679.17 168.67L679.62 170.29L680.07 171.77L680.52 173.05L680.97 174.08L681.42 174.81L681.87 175.22L682.32 175.29L682.77 174.98L683.22 174.3L683.67 173.28L684.12 171.96L684.57 170.42L685.02 168.73L685.47 166.98L685.92 165.23L686.37 163.6L686.82 162.14L687.27 160.94L687.72 160.06L688.17 159.52L688.62 159.38L689.06 159.71L689.51 160.58L689.96 161.93L690.41 163.71L690.86 165.82L691.31 168.15L691.76 170.61L692.21 173.06L692.66 175.38L693.11 177.47L693.56 179.22L694.01 180.55L694.46 181.38L694.91 181.68L695.36 181.55L695.81 181.11L696.26 180.39L696.71 179.39L697.16 178.14L697.61 176.67L698.06 175.02L698.51 173.22L698.96 171.32L699.41 169.36L699.86 167.39L700.31 165.46L700.76 163.62L701.21 161.89L701.66 160.34L702.11 158.99L702.56 157.88L703.01 157.04L703.46 156.47L703.9 156.21L704.35 156.27L704.8 156.77L705.25 157.69L705.7 158.96L706.15 160.51L706.6 162.25L707.05 164.07L707.5 165.87L707.95 167.53L708.4 168.95L708.85 170.06L709.3 170.77L709.75 171.06L710.2 170.91L710.65 170.39L711.1 169.51L711.55 168.31L712 166.86L712.45 165.22L712.9 163.48L713.35 161.72L713.8 160.03L714.25 158.49L714.7 157.17L715.15 156.14L715.6 155.46L716.05 155.14L716.5 155.25L716.95 155.9L717.4 157.05L717.85 158.65L718.29 160.63L718.74 162.88L719.19 165.3L719.64 167.76L720.09 170.16L720.54 172.36L720.99 174.27L721.44 175.78L721.89 176.84L722.34 177.37L722.79 177.39L723.24 177.05L723.69 176.38L724.14 175.41L724.59 174.15L725.04 172.65L725.49 170.95L725.94 169.08L726.39 167.11L726.84 165.09L727.29 163.07L727.74 161.11L728.19 159.26L728.64 157.58L729.09 156.1L729.54 154.88L729.99 153.95L730.44 153.32L730.89 153.02L731.34 153.06L731.79 153.43L732.24 154.12L732.69 155.1L733.13 156.3L733.58 157.69L734.03 159.18L734.48 160.71L734.93 162.19L735.38 163.57L735.83 164.77L736.28 165.73L736.73 166.4L737.18 166.76L737.63 166.79L738.08 166.54L738.53 166.05L738.98 165.34L739.43 164.44L739.88 163.4L740.33 162.26L740.78 161.09L741.23 159.93L741.68 158.86L742.13 157.91L742.58 157.13L743.03 156.58L743.48 156.26L743.93 156.2L744.38 156.53L744.83 157.3L745.28 158.46L745.73 159.97L746.18 161.8L746.63 163.86L747.08 166.08L747.53 168.39L747.97 170.69L748.42 172.92L748.87 174.98L749.32 176.81L749.77 178.33L750.22 179.5L750.67 180.26L751.12 180.61L751.57 180.52L752.02 180.06L752.47 179.24L752.92 178.08L753.37 176.64L753.82 174.97L754.27 173.14L754.72 171.2L755.17 169.24L755.62 167.32L756.07 165.53L756.52 163.93L756.97 162.58L757.42 161.52L757.87 160.81L758.32 160.47L758.77 160.49L759.22 160.81L759.67 161.42L760.12 162.27L760.57 163.35L761.02 164.6L761.47 165.97L761.92 167.39L762.36 168.81L762.81 170.17L763.26 171.41L763.71 172.48L764.16 173.32L764.61 173.9L765.06 174.21L765.51 174.2L765.96 173.81L766.41 173.02L766.86 171.87L767.31 170.42L767.76 168.71L768.21 166.81L768.66 164.81L769.11 162.78L769.56 160.81L770.01 158.97L770.46 157.34L770.91 155.99L771.36 154.97L771.81 154.32L772.26 154.06L772.71 154.29L773.16 155.11L773.61 156.47L774.06 158.31L774.51 160.54L774.96 163.05L775.41 165.72L775.86 168.41L776.31 171.01L776.76 173.37L777.2 175.38L777.65 176.95L778.1 178L778.55 178.47L779 178.41L779.45 177.98L779.9 177.21L780.35 176.12L780.8 174.74L781.25 173.13L781.7 171.33L782.15 169.41L782.6 167.42L783.05 165.42L783.5 163.49L783.95 161.68L784.4 160.05L784.85 158.66L785.3 157.55L785.75 156.75L786.2 156.29L786.65 156.2L787.1 156.5L787.55 157.2L788 158.26L788.45 159.62L788.9 161.21L789.35 162.93L789.8 164.69L790.25 166.39L790.7 167.94L791.15 169.24L791.6 170.23L792.04 170.85L792.49 171.06L792.94 170.86L793.39 170.27L793.84 169.31L794.29 168.01L794.74 166.41L795.19 164.58L795.64 162.59L796.09 160.5L796.54 158.38L796.99 156.32L797.44 154.39L797.89 152.66L798.34 151.19L798.79 150.03L799.24 149.23L799.69 148.81L800.14 148.83L800.59 149.54L801.04 150.97L801.49 153.04L801.94 155.66L802.39 158.69L802.84 161.99L803.29 165.39L803.74 168.74L804.19 171.86L804.64 174.6L805.09 176.84L805.54 178.45L805.99 179.36L806.43 179.54L806.88 179.22L807.33 178.49L807.78 177.37L808.23 175.91L808.68 174.17L809.13 172.19L809.58 170.07L810.03 167.86L810.48 165.65L810.93 163.53L811.38 161.56L811.83 159.81L812.28 158.36L812.73 157.25L813.18 156.52L813.63 156.2L814.08 156.32L814.53 156.94L814.98 158.02L815.43 159.53L815.88 161.4L816.33 163.55L816.78 165.88L817.23 168.3L817.68 170.7L818.13 172.98L818.58 175.04L819.03 176.79L819.48 178.16L819.93 179.08L820.38 179.52L820.83 179.47L821.27 178.97L821.72 178.05L822.17 176.73L822.62 175.07L823.07 173.15L823.52 171.03L823.97 168.81L824.42 166.57L824.87 164.41L825.32 162.4L825.77 160.64L826.22 159.2L826.67 158.12L827.12 157.46L827.57 157.25L828.02 157.51L828.47 158.25L828.92 159.44L829.37 161.05L829.82 162.99L830.27 165.19L830.72 167.57L831.17 170.02L831.62 172.45L832.07 174.76L832.52 176.86L832.97 178.66L833.42 180.08L833.87 181.08L834.32 181.6L834.77 181.63L835.22 181.1L835.67 180.03L836.11 178.46L836.56 176.45L837.01 174.1L837.46 171.5L837.91 168.77L838.36 166.02L838.81 163.38L839.26 160.95L839.71 158.84L840.16 157.15L840.61 155.94L841.06 155.26L841.51 155.15L841.96 155.53L842.41 156.37L842.86 157.63L843.31 159.23L843.76 161.1L844.21 163.14L844.66 165.25L845.11 167.31L845.56 169.23L846.01 170.9L846.46 172.23L846.91 173.17L847.36 173.65L847.81 173.66L848.26 173.19L848.71 172.24L849.16 170.87L849.61 169.11L850.06 167.02L850.51 164.69L850.95 162.2L851.4 159.64L851.85 157.09L852.3 154.65L852.75 152.42L853.2 150.46L853.65 148.85L854.1 147.65L854.55 146.9L855 146.62L855.45 146.91L855.9 147.82L856.35 149.33L856.8 151.36L857.25 153.83L857.7 156.62L858.15 159.6L858.6 162.64L859.05 165.61L859.5 168.37L859.95 170.79L860.4 172.78L860.85 174.23L861.3 175.08L861.75 175.3L862.2 175.02L862.65 174.32L863.1 173.23L863.55 171.79L864 170.06L864.45 168.12L864.9 166.04L865.34 163.9L865.79 161.8L866.24 159.81L866.69 158.02L867.14 156.5L867.59 155.31L868.04 154.5L868.49 154.1L868.94 154.14L869.39 154.66L869.84 155.65L870.29 157.06L870.74 158.81L871.19 160.82L871.64 163L872.09 165.23L872.54 167.41L872.99 169.43L873.44 171.19L873.89 172.61L874.34 173.61L874.79 174.16L875.24 174.21L875.69 173.77L876.14 172.85L876.59 171.48L877.04 169.71L877.49 167.61L877.94 165.26L878.39 162.72L878.84 160.11L879.29 157.51L879.74 155.01L880.18 152.71L880.63 150.69L881.08 149.02L881.53 147.76L881.98 146.95L882.43 146.63L882.88 146.88L883.33 147.83L883.78 149.43L884.23 151.63L884.68 154.31L885.13 157.37L885.58 160.68L886.03 164.1L886.48 167.46L886.93 170.65L887.38 173.5L887.83 175.91L888.28 177.77L888.73 178.99L889.18 179.53L889.63 179.46L890.08 178.99L890.53 178.17L890.98 177.01L891.43 175.56L891.88 173.87L892.33 171.99L892.78 169.99L893.23 167.94L893.68 165.9L894.13 163.94L894.58 162.14L895.02 160.55L895.47 159.23L895.92 158.22L896.37 157.56L896.82 157.26L897.27 157.42L897.72 158.2L898.17 159.59L898.62 161.52L899.07 163.88L899.52 166.57L899.97 169.45L900.42 172.39L900.87 175.23L901.32 177.85L901.77 180.11L902.22 181.89L902.67 183.13L903.12 183.74L903.57 183.74L904.02 183.26L904.47 182.34L904.92 181L905.37 179.28L905.82 177.26L906.27 174.98L906.72 172.52L907.17 169.97L907.62 167.4L908.07 164.9L908.52 162.54L908.97 160.41L909.41 158.57L909.86 157.08L910.31 155.98L910.76 155.33L911.21 155.12L911.66 155.61L912.11 156.93L912.56 159.01L913.01 161.72L913.46 164.9L913.91 168.35L914.36 171.87L914.81 175.24L915.26 178.27L915.71 180.76L916.16 182.58L916.61 183.6L917.06 183.79L917.51 183.37L917.96 182.45L918.41 181.05L918.86 179.21L919.31 177L919.76 174.48L920.21 171.72L920.66 168.81L921.11 165.84L921.56 162.9L922.01 160.08L922.46 157.47L922.91 155.14L923.36 153.16L923.81 151.61L924.25 150.52L924.7 149.92L925.15 149.84L925.6 150.26L926.05 151.15L926.5 152.46L926.95 154.14L927.4 156.11L927.85 158.26L928.3 160.49L928.75 162.69L929.2 164.75L929.65 166.58L930.1 168.08L930.55 169.18L931 169.83L931.45 170" fill="none" stroke="#808080" stroke-width="2.08" stroke-linecap="square" stroke-linejoin="round" clip-path="url(#c0)"/>
<path d="M122.5 316.5L122.5 15.5" fill="none" stroke="#000000" stroke-width="1.11" stroke-linecap="square"/>
<path d="M931.5 316.5L931.5 15.5" fill="none" stroke="#000000" stroke-width="1.11" stroke-linecap="square"/>
<path d="M122.5 316.5L931.5 316.5" fill="none" stroke="#000000" stroke-width="1.11" stroke-linecap="square"/>
<path d="M122.5 15.5L931.5 15.5" fill="none" stroke="#000000" stroke-width="1.11" stroke-linecap="square"/>
<text x="161.7" y="45.3" font-size="19.83" fill="#000000" textLength="633.42" lengthAdjust="spacingAndGlyphs" font-weight="bold">(a) Seattle Tides for one month of 2017 (means removed)</text>
<text x="129.17" y="286.1" font-size="16.01" fill="#000000" textLength="198.25" lengthAdjust="spacingAndGlyphs">SSH Std. Dev. = 1.04 (m)</text>
<text x="129.17" y="307.17" font-size="16.01" fill="#000000" textLength="257.12" lengthAdjust="spacingAndGlyphs">Error Std. Dev. = 0.23 (m) (21%)</text>
<path d="M628.74 309.26L921.73 309.26Q924.51 309.26 924.51 306.48L924.51 255.98Q924.51 253.2 921.73 253.2L628.74 253.2Q625.96 253.2 625.96 255.98L625.96 306.48Q625.96 309.26 628.74 309.26Z" fill="#ffffff" fill-opacity="0.8" stroke="#cccccc" stroke-width="1.39" stroke-opacity="0.8"/>
<path d="M631.5 268.5L645.5 268.5L659.5 268.5" fill="none" stroke="#ff0000" stroke-width="2.08" stroke-linecap="square" stroke-linejoin="round"/>
<text x="669.61" y="273.76" font-size="19.83" fill="#000000" textLength="80" lengthAdjust="spacingAndGlyphs">SSH obs</text>
<path d="M631.5 294.5L645.5 294.5L659.5 294.5" fill="none" stroke="#0000ff" stroke-width="2.08" stroke-linecap="square" stroke-linejoin="round"/>
<text x="669.61" y="299.7" font-size="19.83" fill="#000000" textLength="88.75" lengthAdjust="spacingAndGlyphs">SSH mod</text>
<path d="M786.5 268.5L800.5 268.5L814.5 268.5" fill="none" stroke="#808080" stroke-width="2.08" stroke-linecap="square" stroke-linejoin="round"/>
<text x="825.03" y="273.76" font-size="19.83" fill="#000000" textLength="93.12" lengthAdjust="spacingAndGlyphs">SSH error</text>
<path d="M122.45 714.8L931.45 714.8L931.45 413.7L122.45 413.7Z" fill="#ffffff"/>
<path d="M122.5 714.5L122.5 413.5" fill="none" stroke="#b0b0b0" stroke-width="1.11" stroke-linecap="square" stroke-linejoin="round" clip-path="url(#c1)"/>
<path d="M122.5 714.5L122.5 719.5" fill="#000000" stroke="#000000" stroke-width="1.11" stroke-linejoin="round"/>
<text x="93.78" y="752.45" font-size="19.83" fill="#000000" textLength="29.88" lengthAdjust="spacingAndGlyphs" transform="rotate(-30 93.78 752.45)">Jan</text>
<path d="M191.5 714.5L191.5 413.5" fill="none" stroke="#b0b0b0" stroke-width="1.11" stroke-linecap="square" stroke-linejoin="round" clip-path="url(#c1)"/>
<path d="M191.5 714.5L191.5 719.5" fill="#000000" stroke="#000000" stroke-width="1.11" stroke-linejoin="round"/>
<text x="158.67" y="754.76" font-size="19.83" fill="#000000" textLength="34.5" lengthAdjust="spacingAndGlyphs" transform="rotate(-30 158.67 754.76)">Feb</text>
<path d="M253.5 714.5L253.5 413.5" fill="none" stroke="#b0b0b0" stroke-width="1.11" stroke-linecap="square" stroke-linejoin="round" clip-path="url(#c1)"/>
<path d="M253.5 714.5L253.5 719.5" fill="#000000" stroke="#000000" stroke-width="1.11" stroke-linejoin="round"/>
<text x="218.95" y="755.89" font-size="19.83" fill="#000000" textLength="36.75" lengthAdjust="spacingAndGlyphs" transform="rotate(-30 218.95 755.89)">Mar</text>
<path d="M322.5 714.5L322.5 413.5" fill="none" stroke="#b0b0b0" stroke-width="1.11" stroke-linecap="square" stroke-linejoin="round" clip-path="url(#c1)"/>
<path d="M322.5 714.5L322.5 719.5" fill="#000000" stroke="#000000" stroke-width="1.11" stroke-linejoin="round"/>
<text x="290.34" y="754.45" font-size="19.83" fill="#000000" textLength="33.88" lengthAdjust="spacingAndGlyphs" transform="rotate(-30 290.34 754.45)">Apr</text>
<path d="M389.5 714.5L389.5 413.5" fill="none" stroke="#b0b0b0" stroke-width="1.11" stroke-linecap="square" stroke-linejoin="round" clip-path="url(#c1)"/>
<path d="M389.5 714.5L389.5 719.5" fill="#000000" stroke="#000000" stroke-width="1.11" stroke-linejoin="round"/>
<text x="351.6" y="757.58" font-size="19.83" fill="#000000" textLength="40.12" lengthAdjust="spacingAndGlyphs" transform="rotate(-30 351.6 757.58)">May</text>
<path d="M458.5 714.5L458.5 413.5" fill="none" stroke="#b0b0b0" stroke-width="1.11" stroke-linecap="square" stroke-linejoin="round" clip-path="url(#c1)"/>
<path d="M458.5 714.5L458.5 719.5" fill="#000000" stroke="#000000" stroke-width="1.11" stroke-linejoin="round"/>
<text x="429.05" y="752.64" font-size="19.83" fill="#000000" textLength="30.25" lengthAdjust="spacingAndGlyphs" transform="rotate(-30 429.05 752.64)">Jun</text>
<path d="M524.5 714.5L524.5 413.5" fill="none" stroke="#b0b0b0" stroke-width="1.11" stroke-linecap="square" stroke-linejoin="round" clip-path="url(#c1)"/>
<path d="M524.5 714.5L524.5 719.5" fill="#000000" stroke="#000000" stroke-width="1.11" stroke-linejoin="round"/>
<text x="501.58" y="749.26" font-size="19.83" fill="#000000" textLength="23.5" lengthAdjust="spacingAndGlyphs" transform="rotate(-30 501.58 749.26)">Jul</text>
<path d="M593.5 714.5L593.5 413.5" fill="none" stroke="#b0b0b0" stroke-width="1.11" stroke-linecap="square" stroke-linejoin="round" clip-path="url(#c1)"/>
<path d="M593.5 714.5L593.5 719.5" fill="#000000" stroke="#000000" stroke-width="1.11" stroke-linejoin="round"/>
<text x="557.92" y="756.51" font-size="19.83" fill="#000000" textLength="38" lengthAdjust="spacingAndGlyphs" transform="rotate(-30 557.92 756.51)">Aug</text>
<path d="M662.5 714.5L662.5 413.5" fill="none" stroke="#b0b0b0" stroke-width="1.11" stroke-linecap="square" stroke-linejoin="round" clip-path="url(#c1)"/>
<path d="M662.5 714.5L662.5 719.5" fill="#000000" stroke="#000000" stroke-width="1.11" stroke-linejoin="round"/>
<text x="627.9" y="755.89" font-size="19.83" fill="#000000" textLength="36.75" lengthAdjust="spacingAndGlyphs" transform="rotate(-30 627.9 755.89)">Sep</text>
<path d="M729.5 714.5L729.5 413.5" fill="none" stroke="#b0b0b0" stroke-width="1.11" stroke-linecap="square" stroke-linejoin="round" clip-path="url(#c1)"/>
<path d="M729.5 714.5L729.5 719.5" fill="#000000" stroke="#000000" stroke-width="1.11" stroke-linejoin="round"/>
<text x="697.17" y="754.39" font-size="19.83" fill="#000000" textLength="33.75" lengthAdjust="spacingAndGlyphs" transform="rotate(-30 697.17 754.39)">Oct</text>
<path d="M798.5 714.5L798.5 413.5" fill="none" stroke="#b0b0b0" stroke-width="1.11" stroke-linecap="square" stroke-linejoin="round" clip-path="url(#c1)"/>
<path d="M798.5 714.5L798.5 719.5" fill="#000000" stroke="#000000" stroke-width="1.11" stroke-linejoin="round"/>
<text x="762.39" y="756.51" font-size="19.83" fill="#000000" textLength="38" lengthAdjust="spacingAndGlyphs" transform="rotate(-30 762.39 756.51)">Nov</text>
<path d="M864.5 714.5L864.5 413.5" fill="none" stroke="#b0b0b0" stroke-width="1.11" stroke-linecap="square" stroke-linejoin="round" clip-path="url(#c1)"/>
<path d="M864.5 714.5L864.5 719.5" fill="#000000" stroke="#000000" stroke-width="1.11" stroke-linejoin="round"/>
<text x="829.39" y="756.33" font-size="19.83" fill="#000000" textLength="37.62" lengthAdjust="spacingAndGlyphs" transform="rotate(-30 829.39 756.33)">Dec</text>
<text x="475.15" y="781.59" font-size="19.83" fill="#000000" textLength="102" lengthAdjust="spacingAndGlyphs">Date 2017</text>
<path d="M122.5 705.5L931.5 705.5" fill="none" stroke="#b0b0b0" stroke-width="1.11" stroke-linecap="square" stroke-linejoin="round" clip-path="url(#c1)"/>
<path d="M122.5 705.5L117.5 705.5" fill="#000000" stroke="#000000" stroke-width="1.11" stroke-linejoin="round"/>
<text x="52.18" y="712.89" font-size="19.83" fill="#000000" textLength="59.75" lengthAdjust="spacingAndGlyphs">−0.75</text>
<path d="M122.5 658.5L931.5 658.5" fill="none" stroke="#b0b0b0" stroke-width="1.11" stroke-linecap="square" stroke-linejoin="round" clip-path="url(#c1)"/>
<path d="M122.5 658.5L117.5 658.5" fill="#000000" stroke="#000000" stroke-width="1.11" stroke-linejoin="round"/>
<text x="52.3" y="665.84" font-size="19.83" fill="#000000" textLength="59.62" lengthAdjust="spacingAndGlyphs">−0.50</text>
<path d="M122.5 611.5L931.5 611.5" fill="none" stroke="#b0b0b0" stroke-width="1.11" stroke-linecap="square" stroke-linejoin="round" clip-path="url(#c1)"/>
<path d="M122.5 611.5L117.5 611.5" fill="#000000" stroke="#000000" stroke-width="1.11" stroke-linejoin="round"/>
<text x="52.18" y="618.8" font-size="19.83" fill="#000000" textLength="59.75" lengthAdjust="spacingAndGlyphs">−0.25</text>
<path d="M122.5 564.5L931.5 564.5" fill="none" stroke="#b0b0b0" stroke-width="1.11" stroke-linecap="square" stroke-linejoin="round" clip-path="url(#c1)"/>
<path d="M122.5 564.5L117.5 564.5" fill="#000000" stroke="#000000" stroke-width="1.11" stroke-linejoin="round"/>
<text x="68.93" y="571.75" font-size="19.83" fill="#000000" textLength="43" lengthAdjust="spacingAndGlyphs">0.00</text>
<path d="M122.5 517.5L931.5 517.5" fill="none" stroke="#b0b0b0" stroke-width="1.11" stroke-linecap="square" stroke-linejoin="round" clip-path="url(#c1)"/>
<path d="M122.5 517.5L117.5 517.5" fill="#000000" stroke="#000000" stroke-width="1.11" stroke-linejoin="round"/>
<text x="68.55" y="524.7" font-size="19.83" fill="#000000" textLength="43.38" lengthAdjust="spacingAndGlyphs">0.25</text>
<path d="M122.5 470.5L931.5 470.5" fill="none" stroke="#b0b0b0" stroke-width="1.11" stroke-linecap="square" stroke-linejoin="round" clip-path="url(#c1)"/>
<path d="M122.5 470.5L117.5 470.5" fill="#000000" stroke="#000000" stroke-width="1.11" stroke-linejoin="round"/>
<text x="68.68" y="477.66" font-size="19.83" fill="#000000" textLength="43.25" lengthAdjust="spacingAndGlyphs">0.50</text>
<path d="M122.5 423.5L931.5 423.5" fill="none" stroke="#b0b0b0" stroke-width="1.11" stroke-linecap="square" stroke-linejoin="round" clip-path="url(#c1)"/>
<path d="M122.5 423.5L117.5 423.5" fill="#000000" stroke="#000000" stroke-width="1.11" stroke-linejoin="round"/>
<text x="68.55" y="430.61" font-size="19.83" fill="#000000" textLength="43.38" lengthAdjust="spacingAndGlyphs">0.75</text>
<text x="42.62" y="604" font-size="19.83" fill="#000000" textLength="79.5" lengthAdjust="spacingAndGlyphs" transform="rotate(-90 42.62 604)">SSH (m)</text>
<path d="M122.45 573L123.56 573L124.67 574.05L125.78 578.72L126.9 583.66L128.01 587.44L129.12 591.05L130.23 592.96L131.34 591.73L132.45 587.72L133.56 582.26L134.67 575.57L135.79 565.27L136.9 553.75L138.01 543.94L139.12 535.5L140.23 527.43L141.34 521.62L142.45 519.5L143.56 518.52L144.68 518.03L145.79 520.42L146.9 529.44L148.01 540.08L149.12 553.49L150.23 567.43L151.34 572.48L152.45 573.76L153.57 574.6L154.68 574.98L155.79 573.74L156.9 568.33L158.01 559.91L159.12 536.79L160.23 511.98L161.34 492.78L162.46 484L163.57 485.25L164.68 485.65L165.79 479.93L166.9 475.05L168.01 478.5L169.12 484.52L170.23 488.6L171.35 492.43L172.46 497.09L173.57 504.14L174.68 515.8L175.79 529.71L176.9 542.96L178.01 555.74L179.12 568.06L180.24 574.88L181.35 578.51L182.46 580.7L183.57 580.43L184.68 577.46L185.79 575.08L186.9 575.37L188.01 576.59L189.13 578.21L190.24 581.75L191.35 586.05L192.46 587.97L193.57 579.99L194.68 563.76L195.79 548.13L196.9 537.82L198.02 528.85L199.13 521.17L200.24 513.43L201.35 506.21L202.46 501.64L203.57 502.17L204.68 508.21L205.79 515.75L206.91 525.31L208.02 530L209.13 515.69L210.24 492.2L211.35 486.01L212.46 499.06L213.57 517.82L214.68 534.15L215.8 552.74L216.91 566.93L218.02 569.77L219.13 567.27L220.24 562.6L221.35 548.3L222.46 528.54L223.57 510.53L224.69 491.25L225.8 484.44L226.91 497.21L228.02 508.03L229.13 508.99L230.24 509.53L231.35 510.27L232.47 511.11L233.58 512.33L234.69 515.98L235.8 525.49L236.91 535.37L238.02 543.11L239.13 550.18L240.24 554.76L241.36 558.06L242.47 560.88L243.58 562.94L244.69 563.95L245.8 561.19L246.91 551.4L248.02 541.05L249.13 537.09L250.25 543.27L251.36 554.21L252.47 564.03L253.58 575.28L254.69 584.87L255.8 587.87L256.91 583.34L258.02 574.33L259.14 563.66L260.25 553.85L261.36 541.61L262.47 531.54L263.58 531.24L264.69 538.05L265.8 545.19L266.91 549.35L268.03 552.78L269.14 553.96L270.25 551.68L271.36 549.5L272.47 547.96L273.58 546.7L274.69 546.04L275.8 547.41L276.92 552.46L278.03 558.3L279.14 561.84L280.25 560.33L281.36 555.02L282.47 549.57L283.58 546.86L284.69 544.99L285.81 544.03L286.92 547.57L288.03 556.05L289.14 559.82L290.25 549.46L291.36 535.26L292.47 533.24L293.58 543.09L294.7 556.01L295.81 563.78L296.92 560.79L298.03 551.73L299.14 542.85L300.25 540.08L301.36 541.73L302.47 543.68L303.59 543.07L304.7 537.8L305.81 531.41L306.92 528.02L308.03 528L309.14 528L310.25 528L311.36 528.52L312.48 534.78L313.59 543.71L314.7 549.64L315.81 544.18L316.92 530.28L318.03 532.82L319.14 553.11L320.25 565.08L321.37 568.41L322.48 570.76L323.59 573.71L324.7 577.44L325.81 581.13L326.92 583.93L328.03 585L329.15 581.89L330.26 575.75L331.37 570.59L332.48 566.97L333.59 562.42L334.7 552.02L335.81 532.99L336.92 512.09L338.04 506.5L339.15 518.18L340.26 527.27L341.37 532.33L342.48 535.57L343.59 536L344.7 536L345.81 536L346.93 532.6L348.04 524.65L349.15 521.04L350.26 523.57L351.37 528.68L352.48 535.72L353.59 549.14L354.7 559.38L355.82 558.06L356.93 551.49L358.04 544.62L359.15 542.02L360.26 543.52L361.37 546.62L362.48 550.34L363.59 554.28L364.71 559.97L365.82 565.39L366.93 567.99L368.04 565.31L369.15 558.86L370.26 552.42L371.37 549.43L372.48 548.16L373.6 547.23L374.71 546.29L375.82 544.96L376.93 543.35L378.04 542.18L379.15 543.29L380.26 551.39L381.37 561.64L382.49 568.56L383.6 573.95L384.71 578.17L385.82 581.16L386.93 583.91L388.04 586.17L389.15 587.63L390.26 587.95L391.38 586.89L392.49 584.72L393.6 581.88L394.71 578.79L395.82 574.86L396.93 569.01L398.04 563.84L399.15 562.08L400.27 566.04L401.38 572.76L402.49 578.33L403.6 584.1L404.71 587.8L405.82 586.45L406.93 580.94L408.04 574.3L409.16 569.51L410.27 565.92L411.38 562.81L412.49 561.1L413.6 561.08L414.71 561.42L415.82 561.92L416.93 562.48L418.05 563.02L419.16 563.71L420.27 563.75L421.38 559.16L422.49 553.84L423.6 554.96L424.71 563.83L425.82 572.89L426.94 582.9L428.05 588.05L429.16 588.86L430.27 589.34L431.38 589.73L432.49 590.27L433.6 590.99L434.72 591.65L435.83 591.99L436.94 589.5L438.05 582.67L439.16 576.05L440.27 574.1L441.38 575.55L442.49 575.64L443.61 573.24L444.72 571.13L445.83 571.93L446.94 574.57L448.05 576L449.16 575.04L450.27 572.98L451.38 570.72L452.5 569.2L453.61 569.03L454.72 569.22L455.83 569.55L456.94 569.98L458.05 571.01L459.16 572.77L460.27 574.41L461.39 575.14L462.5 575.41L463.61 575.6L464.72 575.89L465.83 576.94L466.94 578.96L468.05 579.99L469.16 575.36L470.28 566.74L471.39 559.93L472.5 553.62L473.61 549.38L474.72 550.31L475.83 554.97L476.94 557.99L478.05 557.46L479.17 557.04L480.28 558.94L481.39 562.27L482.5 565.43L483.61 569.36L484.72 573.05L485.83 574.96L486.94 573.6L488.06 569.48L489.17 564.57L490.28 560.85L491.39 560.65L492.5 567.01L493.61 573.36L494.72 573.88L495.83 573.33L496.95 572.54L498.06 571.74L499.17 571.16L500.28 571.09L501.39 573.03L502.5 576.6L503.61 580.67L504.72 585.13L505.84 590.89L506.95 593.99L508.06 592.14L509.17 587.67L510.28 582.69L511.39 575.39L512.5 567.01L513.61 560.63L514.73 559.24L515.84 562.83L516.95 568.2L518.06 572.13L519.17 574.49L520.28 576.53L521.39 577.79L522.5 577.91L523.62 577.28L524.73 576.48L525.84 576.01L526.95 576.17L528.06 576.7L529.17 577.43L530.28 578.22L531.4 579.51L532.51 580.98L533.62 581.92L534.73 581.42L535.84 578.98L536.95 575.98L538.06 573.93L539.17 572.74L540.29 571.72L541.4 571.1L542.51 571.18L543.62 572.52L544.73 574.39L545.84 575.87L546.95 576.58L548.06 577.08L549.18 577.56L550.29 578.17L551.4 578.86L552.51 579.65L553.62 580.62L554.73 582.13L555.84 584.65L556.95 587.03L558.07 588L559.18 587.14L560.29 585.49L561.4 582.26L562.51 578.89L563.62 577.27L564.73 576.13L565.84 575.32L566.96 575L568.07 575.13L569.18 575.49L570.29 576.01L571.4 576.64L572.51 577.42L573.62 578.93L574.73 580.76L575.85 582.31L576.96 583L578.07 582.52L579.18 581.28L580.29 579.78L581.4 578.46L582.51 577.7L583.62 577.08L584.74 576.54L585.85 576.15L586.96 576L588.07 577.18L589.18 580.05L590.29 583.3L591.4 585.61L592.51 585.77L593.63 583.97L594.74 580.96L595.85 577.44L596.96 574.11L598.07 570.5L599.18 566.09L600.29 561.78L601.4 558.46L602.52 557.01L603.63 558.1L604.74 560.83L605.85 563.65L606.96 565L608.07 564.76L609.18 564.19L610.29 563.54L611.41 563.08L612.52 563L613.63 563L614.74 563L615.85 563L616.96 563L618.07 563.08L619.18 563.31L620.3 563.67L621.41 564.15L622.52 564.72L623.63 565.57L624.74 567.35L625.85 569.65L626.96 571.93L628.08 574.12L629.19 576.43L630.3 578.68L631.41 580.77L632.52 583.08L633.63 585.37L634.74 587.16L635.85 587.99L636.97 587.24L638.08 584.97L639.19 582.05L640.3 579.23L641.41 575.49L642.52 571.6L643.63 569.19L644.74 570.07L645.86 573.87L646.97 576.96L648.08 578.23L649.19 579.25L650.3 579.88L651.41 579.75L652.52 577.17L653.63 573.26L654.75 568.6L655.86 562.34L656.97 559L658.08 561.18L659.19 566.27L660.3 571.65L661.41 574.96L662.52 577.33L663.64 579.28L664.75 580.75L665.86 581.81L666.97 582.67L668.08 582.99L669.19 581.76L670.3 579.05L671.41 575.78L672.53 572.89L673.64 570.95L674.75 569.1L675.86 567.62L676.97 567L678.08 567.52L679.19 568.89L680.3 570.75L681.42 572.99L682.53 577.16L683.64 581.4L684.75 582.98L685.86 581.61L686.97 579.09L688.08 576.79L689.19 576.01L690.31 576.31L691.42 576.92L692.53 577.67L693.64 578.62L694.75 580.08L695.86 580.99L696.97 579.06L698.08 573.61L699.2 567.13L700.31 561.98L701.42 556.84L702.53 552.24L703.64 550.02L704.75 550.8L705.86 553.08L706.97 556.06L708.09 559.42L709.2 564.36L710.31 569.43L711.42 572.87L712.53 574.96L713.64 576.62L714.75 578.05L715.86 579.47L716.98 581.15L718.09 583.1L719.2 584.6L720.31 584.82L721.42 581.81L722.53 576.72L723.64 571.69L724.75 568.86L725.87 569.75L726.98 573.16L728.09 577.55L729.2 581.67L730.31 586.61L731.42 591.94L732.53 596.67L733.65 599.82L734.76 601.55L735.87 603.06L736.98 604.21L738.09 604.88L739.2 604.5L740.31 599.83L741.42 592.38L742.54 584.77L743.65 576.37L744.76 580.47L745.87 590.43L746.98 598.76L748.09 598.66L749.2 591.37L750.31 583.12L751.43 580.02L752.54 581.2L753.65 583.67L754.76 586.8L755.87 591.59L756.98 599.57L758.09 607.57L759.2 612.24L760.32 611.85L761.43 609.2L762.54 605.16L763.65 600.44L764.76 594.13L765.87 585.12L766.98 574.83L768.09 563.26L769.21 547.65L770.32 536.24L771.43 537.28L772.54 546.25L773.65 552.44L774.76 546.78L775.87 541.36L776.98 550.13L778.1 564.2L779.21 572.54L780.32 577.95L781.43 582.19L782.54 585.08L783.65 587.23L784.76 588.98L785.87 589.93L786.99 589.12L788.1 585.37L789.21 580.46L790.32 576.37L791.43 575.04L792.54 576.66L793.65 579.71L794.76 582.88L795.88 584.84L796.99 583.53L798.1 577.28L799.21 569.09L800.32 562.27L801.43 560.09L802.54 563.44L803.65 568.83L804.77 572.36L805.88 570.44L806.99 565.14L808.1 562.56L809.21 568.76L810.32 578.54L811.43 582.35L812.54 576.26L813.66 564.81L814.77 552.94L815.88 545.59L816.99 546.01L818.1 549.9L819.21 553.86L820.32 554.64L821.43 549.01L822.55 539.58L823.66 530.33L824.77 525.19L825.88 525L826.99 525L828.1 523.3L829.21 515.15L830.33 508.91L831.44 510.2L832.55 515.59L833.66 528.3L834.77 543.29L835.88 559.46L836.99 563.63L838.1 550.06L839.22 535.87L840.33 525.34L841.44 525.02L842.55 529.05L843.66 532.14L844.77 530.03L845.88 524.37L846.99 521.13L848.11 525.03L849.22 533.25L850.33 540.43L851.44 541.2L852.55 533.98L853.66 524.26L854.77 518.22L855.88 523.66L857 539.11L858.11 550.6L859.22 556.67L860.33 561.64L861.44 564.58L862.55 564.28L863.66 559.88L864.77 554.77L865.89 550.96L867 547.4L868.11 546.04L869.22 550.74L870.33 560.05L871.44 570.54L872.55 584.18L873.66 592.04L874.78 598.06L875.89 602.36L877 604L878.11 603.29L879.22 601.53L880.33 599.32L881.44 597.07L882.55 594.17L883.67 591.03L884.78 588.4L885.89 586.47L887 584.67L888.11 583.38L889.22 583.02L890.33 583.52L891.44 584.33L892.56 584.93L893.67 584.33L894.78 581.25L895.89 577.7L897 576L898.11 577.55L899.22 580.17L900.33 580.64L901.45 575.6L902.56 568.39L903.67 562.46L904.78 556.08L905.89 551.6L907 554.43L908.11 570.34L909.22 581.02L910.34 584.75L911.45 587.49L912.56 590.93L913.67 595.25L914.78 597.91L915.89 594.17L917 584.64L918.11 580.03L919.23 582.55L920.34 586.13L921.45 586.89L922.56 585.78L923.67 583.63L924.78 580.66L925.89 574.77L927 563.05L928 550" fill="none" stroke="#ff0000" stroke-width="2.08" stroke-linecap="square" stroke-linejoin="round" clip-path="url(#c1)"/>
<path d="M122.45 582L123.56 582L124.67 581.46L125.78 578.79L126.9 575.16L128.01 571.99L129.12 569.67L130.23 567.57L131.34 565.48L132.45 563.23L133.56 560.57L134.67 557.25L135.79 553.7L136.9 550.44L138.01 547.99L139.12 546.06L140.23 544.33L141.34 543.21L142.45 543L143.56 543L144.68 543L145.79 542.66L146.9 541.61L148.01 541L149.12 542.1L150.23 544.53L151.34 547.01L152.45 548.48L153.57 549.63L154.68 550.54L155.79 550.99L156.9 549.12L158.01 543.47L159.12 537.38L160.23 529.88L161.34 522.26L162.46 519.01L163.57 520.9L164.68 524.59L165.79 527.68L166.9 529.1L168.01 530.25L169.12 530.92L170.23 530.74L171.35 529.64L172.46 529.01L173.57 530.93L174.68 534.92L175.79 538.95L176.9 540.98L178.01 540.89L179.12 540.61L180.24 540.29L181.35 540.05L182.46 540.23L183.57 542.32L184.68 545.73L185.79 549.38L186.9 552.96L188.01 557.13L189.13 561.24L190.24 564.68L191.35 568.1L192.46 570.62L193.57 569.96L194.68 563.93L195.79 556.98L196.9 551.78L198.02 546.51L199.13 542.44L200.24 540.89L201.35 540.46L202.46 540.16L203.57 540.01L204.68 540.16L205.79 540.85L206.91 541.63L208.02 542L209.13 537.15L210.24 527.26L211.35 518.76L212.46 518.06L213.57 526.41L214.68 536.16L215.8 541.87L216.91 546.99L218.02 550.75L219.13 551.94L220.24 547.65L221.35 540.03L222.46 533.27L223.57 525.63L224.69 519.13L225.8 517.15L226.91 522.27L228.02 530.55L229.13 536.43L230.24 540L231.35 542.52L232.47 542.68L233.58 540.31L234.69 538.15L235.8 538.8L236.91 541.69L238.02 545.05L239.13 547.14L240.24 548.11L241.36 548.84L242.47 549.44L243.58 550.04L244.69 550.76L245.8 551.74L246.91 552.96L248.02 554.24L249.13 555.36L250.25 556.14L251.36 556.77L252.47 557.34L253.58 557.77L254.69 557.99L255.8 557.72L256.91 556.69L258.02 555.38L259.14 554.32L260.25 554.04L261.36 555.07L262.47 556.69L263.58 557.88L264.69 557.91L265.8 557.44L266.91 556.64L268.03 555.63L269.14 554.49L270.25 552.98L271.36 550.41L272.47 548.32L273.58 548L274.69 548L275.8 548L276.92 548L278.03 548.66L279.14 550.21L280.25 551.63L281.36 551.95L282.47 551.31L283.58 550.21L284.69 549.02L285.81 548.1L286.92 547.56L288.03 547.05L289.14 546.59L290.25 546.24L291.36 546.03L292.47 546.33L293.58 549.09L294.7 553.26L295.81 557.13L296.92 558.99L298.03 557.71L299.14 554.32L300.25 550.31L301.36 547L302.47 543.55L303.59 539.86L304.7 536.42L305.81 533.69L306.92 532.17L308.03 532.25L309.14 533.53L310.25 535.16L311.36 536.29L312.48 537L313.59 537.56L314.7 538.12L315.81 538.85L316.92 539.91L318.03 542.48L319.14 546.94L320.25 551.6L321.37 554.9L322.48 557.28L323.59 559.35L324.7 561.41L325.81 563.88L326.92 566.8L328.03 569.18L329.15 569.98L330.26 568.6L331.37 566.18L332.48 564.28L333.59 564L334.7 564L335.81 564L336.92 558.12L338.04 544.34L339.15 538L340.26 538L341.37 538L342.48 538.07L343.59 538.69L344.7 539.7L345.81 541.52L346.93 544.49L348.04 546L349.15 544.04L350.26 540.92L351.37 540.33L352.48 544.28L353.59 550.3L354.7 555.25L355.82 557.57L356.93 559.31L358.04 560L359.15 558.66L360.26 555.72L361.37 552.49L362.48 550.3L363.59 550.03L364.71 550.25L365.82 550.59L366.93 550.98L368.04 551.38L369.15 551.88L370.26 552.51L371.37 553.34L372.48 554.97L373.6 556.81L374.71 557.94L375.82 557.35L376.93 555.16L378.04 552.87L379.15 552.03L380.26 553.62L381.37 556.55L382.49 559.26L383.6 560.5L384.71 561.15L385.82 561.85L386.93 563.01L388.04 564.6L389.15 566.36L390.26 568.05L391.38 569.46L392.49 570.92L393.6 572.35L394.71 573.46L395.82 573.99L396.93 573.82L398.04 573.27L399.15 572.62L400.27 572.12L401.38 572.1L402.49 573.28L403.6 575.18L404.71 577.01L405.82 577.98L406.93 577.62L408.04 576.44L409.16 574.98L410.27 573.72L411.38 572.35L412.49 570.89L413.6 569.67L414.71 569.03L415.82 569.54L416.93 571.43L418.05 573.66L419.16 575.13L420.27 575.91L421.38 576.51L422.49 577.07L423.6 577.72L424.71 578.67L425.82 579.99L426.94 581.26L428.05 582.02L429.16 582.3L430.27 582.47L431.38 582.62L432.49 582.85L433.6 583.39L434.72 584.77L435.83 586.25L436.94 587L438.05 584.75L439.16 580.53L440.27 579.03L441.38 579.55L442.49 580.36L443.61 580.95L444.72 580.84L445.83 580.11L446.94 579.05L448.05 577.95L449.16 576.55L450.27 574.79L451.38 573.15L452.5 572.13L453.61 572.12L454.72 572.79L455.83 573.59L456.94 574L458.05 573.66L459.16 572.88L460.27 572.17L461.39 572.01L462.5 572.11L463.61 572.31L464.72 572.59L465.83 572.94L466.94 573.75L468.05 575.25L469.16 576.6L470.28 576.96L471.39 576.17L472.5 574.75L473.61 573.23L474.72 572.14L475.83 571.68L476.94 571.32L478.05 571.07L479.17 571.01L480.28 571.24L481.39 571.64L482.5 571.96L483.61 572L484.72 572L485.83 572L486.94 572L488.06 572L489.17 571.7L490.28 571.03L491.39 570.21L492.5 569.47L493.61 569.04L494.72 569.23L495.83 570.31L496.95 571.92L498.06 573.68L499.17 575.21L500.28 576.53L501.39 577.86L502.5 579.29L503.61 581.07L504.72 583.56L505.84 586.18L506.95 588.23L508.06 589L509.17 588.03L510.28 585.96L511.39 583.71L512.5 582.19L513.61 582.08L514.73 582.55L515.84 583.2L516.95 583.77L518.06 584L519.17 583.9L520.28 583.63L521.39 583.25L522.5 582.6L523.62 580.77L524.73 578.57L525.84 577.09L526.95 576.62L528.06 576.27L529.17 576.05L530.28 576.13L531.4 578.52L532.51 582.17L533.62 584.77L534.73 584.59L535.84 582.76L536.95 580.12L538.06 577.45L539.17 575.52L540.29 575.03L541.4 575.69L542.51 576.89L543.62 578.26L544.73 579.42L545.84 579.99L546.95 580L548.06 580L549.18 580L550.29 580L551.4 580L552.51 579.98L553.62 579.8L554.73 579.48L555.84 579.06L556.95 578.1L558.07 576.61L559.18 576.01L560.29 576.66L561.4 577.88L562.51 579.15L563.62 579.93L564.73 579.56L565.84 577.79L566.96 575.84L568.07 575L569.18 575.06L570.29 575.23L571.4 575.49L572.51 575.83L573.62 576.6L574.73 579.04L575.85 582.22L576.96 584.94L578.07 586L579.18 584.93L580.29 582.66L581.4 580.13L582.51 578.32L583.62 577.84L584.74 577.58L585.85 577.36L586.96 577.2L588.07 577.08L589.18 577.01L590.29 577.05L591.4 577.96L592.51 579.52L593.63 581.07L594.74 581.96L595.85 581.68L596.96 580.55L598.07 579.09L599.18 577.81L600.29 576.49L601.4 575.02L602.52 573.63L603.63 572.56L604.74 572.02L605.85 572.06L606.96 572.3L608.07 572.66L609.18 573.07L610.29 573.47L611.41 573.79L612.52 573.98L613.63 573.86L614.74 573.03L615.85 571.68L616.96 570.06L618.07 568.43L619.18 567.05L620.3 566.17L621.41 566.04L622.52 566.52L623.63 567.44L624.74 568.68L625.85 570.1L626.96 571.58L628.08 572.98L629.19 574.19L630.3 575.43L631.41 576.78L632.52 578.12L633.63 579.33L634.74 580.32L635.85 580.95L636.97 581.3L638.08 581.6L639.19 581.84L640.3 581.97L641.41 581.89L642.52 580.67L643.63 578.76L644.74 576.95L645.86 576.01L646.97 576.28L648.08 577.11L649.19 578.19L650.3 579.22L651.41 579.89L652.52 579.73L653.63 577.74L654.75 574.84L655.86 572.2L656.97 571L658.08 571.87L659.19 574.16L660.3 577.23L661.41 580.44L662.52 583.15L663.64 585.01L664.75 586.82L665.86 588.44L666.97 589.6L668.08 589.99L669.19 588.22L670.3 584.37L671.41 579.84L672.53 576.05L673.64 573.9L674.75 572.05L675.86 570.46L676.97 569.37L678.08 569L679.19 569L680.3 569L681.42 569L682.53 569L683.64 569.34L684.75 571.16L685.86 573.81L686.97 576.41L688.08 578.08L689.19 579.1L690.31 579.84L691.42 579.93L692.53 579.13L693.64 577.78L694.75 576.31L695.86 574.84L696.97 573.11L698.08 571.33L699.2 569.74L700.31 568.38L701.42 566.92L702.53 565.63L703.64 565.01L704.75 565.11L705.86 565.43L706.97 565.91L708.09 566.48L709.2 567.08L710.31 567.67L711.42 568.43L712.53 569.38L713.64 570.37L714.75 571.3L715.86 572.03L716.98 572.45L718.09 572.5L719.2 572.5L720.31 572.5L721.42 572.5L722.53 572.5L723.64 572.5L724.75 572.5L725.87 572.89L726.98 574.24L728.09 576.06L729.2 577.82L730.31 579.03L731.42 580.05L732.53 581.06L733.65 582L734.76 582.8L735.87 583.39L736.98 583.71L738.09 583.56L739.2 582.39L740.31 580.56L741.42 578.59L742.54 576.99L743.65 576.26L744.76 576.35L745.87 576.67L746.98 577.14L748.09 577.71L749.2 578.32L750.31 578.93L751.43 579.74L752.54 580.7L753.65 581.64L754.76 582.38L755.87 582.9L756.98 583.38L758.09 583.69L759.2 583.72L760.32 583.44L761.43 582.91L762.54 582.19L763.65 581.33L764.76 579.66L765.87 576.74L766.98 573.5L768.09 570.87L769.21 569.66L770.32 569.04L771.43 568.59L772.54 568.15L773.65 567.57L774.76 566.54L775.87 565.09L776.98 563.66L778.1 562.68L779.21 562.71L780.32 564.66L781.43 567.91L782.54 571.54L783.65 574.61L784.76 576.19L785.87 575.92L786.99 574.76L788.1 573.17L789.21 571.57L790.32 570.37L791.43 570.01L792.54 570.48L793.65 571.47L794.76 572.69L795.88 573.88L796.99 574.77L798.1 575.19L799.21 575.52L800.32 575.81L801.43 576.03L802.54 576.19L803.65 576.25L804.77 575.99L805.88 575.21L806.99 574.03L808.1 572.61L809.21 571.08L810.32 569.52L811.43 567.19L812.54 564.28L813.66 561.33L814.77 558.92L815.88 557.6L816.99 557.65L818.1 558.27L819.21 559.09L820.32 559.77L821.43 559.95L822.55 557.64L823.66 552.97L824.77 547.38L825.88 542.29L826.99 539.15L828.1 538.84L829.21 539.44L830.33 540.52L831.44 541.96L832.55 543.67L833.66 547.07L834.77 552.62L835.88 555.96L836.99 553.77L838.1 549.62L839.22 545.26L840.33 544.17L841.44 544.93L842.55 542.2L843.66 537.13L844.77 532.02L845.88 529.11L846.99 530.26L848.11 534.41L849.22 539.45L850.33 543.22L851.44 543.63L852.55 540.32L853.66 535.87L854.77 533.1L855.88 533.28L857 534.22L858.11 535.44L859.22 536.53L860.33 537.11L861.44 537.37L862.55 537.56L863.66 537.86L864.77 538.91L865.89 541.66L867 545.13L868.11 548.27L869.22 551.14L870.33 554.09L871.44 556.87L872.55 559.23L873.66 561.09L874.78 562.91L875.89 564.52L877 565.63L878.11 565.99L879.22 565.1L880.33 563.3L881.44 561.38L882.55 560.13L883.67 560.07L884.78 560.42L885.89 560.81L887 561L888.11 560.07L889.22 558.5L890.33 558.03L891.44 558.43L892.56 559.17L893.67 560.04L894.78 560.86L895.89 561.57L897 562.32L898.11 563.05L899.22 563.67L900.33 564.11L901.45 564.37L902.56 564.59L903.67 564.88L904.78 565.44L905.89 566.45L907 567.71L908.11 569.03L909.22 570.23L910.34 571.57L911.45 573.04L912.56 574.42L913.67 575.48L914.78 575.98L915.89 575.22L917 572.75L918.11 569.81L919.23 567.67L920.34 566.29L921.45 565.13L922.56 563.96L923.67 562.52L924.78 560.55L925.89 557.99L927 554.97L928 552" fill="none" stroke="#0000ff" stroke-width="2.08" stroke-linecap="square" stroke-linejoin="round" clip-path="url(#c1)"/>
<path d="M122.45 569L123.56 569L124.67 570.34L125.78 575.78L126.9 579.9L128.01 580.53L129.12 580.9L130.23 580.85L131.34 576.66L132.45 569.5L133.56 562.42L134.67 554.29L135.79 545.46L136.9 536.77L138.01 526.93L139.12 517.22L140.23 514.01L141.34 514.38L142.45 515.21L143.56 516.43L144.68 519.22L145.79 527.04L146.9 537.13L148.01 546.06L149.12 554.53L150.23 562.02L151.34 563.99L152.45 563.75L153.57 563.25L154.68 561.86L155.79 557.38L156.9 550.68L158.01 537.89L159.12 518.2L160.23 500.68L161.34 483.4L162.46 475.02L163.57 479.1L164.68 479.48L165.79 477.43L166.9 476.01L168.01 479.11L169.12 486.51L170.23 493.13L171.35 497.91L172.46 502.95L173.57 510.11L174.68 520.72L175.79 532.61L176.9 543.21L178.01 552.78L179.12 562.44L180.24 569.35L181.35 570.81L182.46 568.6L183.57 566.28L184.68 566.17L185.79 567.06L186.9 568.44L188.01 570.02L189.13 572.76L190.24 576.51L191.35 579.42L192.46 578.23L193.57 563.17L194.68 542.28L195.79 527.22L196.9 522.96L198.02 520.49L199.13 517.57L200.24 512.48L201.35 506.66L202.46 502.59L203.57 503.91L204.68 513.83L205.79 521.73L206.91 517.92L208.02 506.76L209.13 497.2L210.24 489.87L211.35 485.2L212.46 489.26L213.57 502.43L214.68 520.85L215.8 549.14L216.91 565.87L218.02 565.49L219.13 563.89L220.24 560.87L221.35 545.25L222.46 522.96L223.57 504.95L224.69 487.42L225.8 481.22L226.91 488.04L228.02 496.6L229.13 499.18L230.24 500.36L231.35 501.31L232.47 502.52L233.58 503.64L234.69 505.31L235.8 512.34L236.91 528.99L238.02 542.14L239.13 548.82L240.24 553.64L241.36 555.17L242.47 555.6L243.58 555.87L244.69 555.99L245.8 553.81L246.91 546.2L248.02 538.15L249.13 535.04L250.25 537.99L251.36 544.05L252.47 551L253.58 557.61L254.69 565.78L255.8 570.85L256.91 567.78L258.02 558L259.14 546.63L260.25 538.62L261.36 532.2L262.47 526.58L263.58 523.31L264.69 525.8L265.8 536.85L266.91 545.74L268.03 547.96L269.14 549.37L270.25 551.16L271.36 551.72L272.47 548.6L273.58 545.37L274.69 545.37L275.8 547.08L276.92 549.36L278.03 551.31L279.14 551.98L280.25 550.43L281.36 547.2L282.47 543.36L283.58 539.97L284.69 538.11L285.81 540.84L286.92 549.25L288.03 554L289.14 549.66L290.25 540.94L291.36 533.5L292.47 532.65L293.58 538.18L294.7 546.52L295.81 554.27L296.92 557.98L298.03 553.29L299.14 542.03L300.25 531.32L301.36 527.6L302.47 526.53L303.59 525.73L304.7 525.22L305.81 525L306.92 525.34L308.03 526.52L309.14 528.33L310.25 530.71L311.36 537.14L312.48 545.59L313.59 551.42L314.7 551.03L315.81 546.85L316.92 542.15L318.03 540.01L319.14 548.1L320.25 562.11L321.37 569.25L322.48 571.98L323.59 574.11L324.7 576.93L325.81 580.24L326.92 581.99L328.03 580.63L329.15 577.12L330.26 573.06L331.37 568.2L332.48 562.12L333.59 554.92L334.7 544.81L335.81 529.33L336.92 517.5L338.04 518.14L339.15 528.42L340.26 539.14L341.37 541.98L342.48 541.68L343.59 541.07L344.7 540.25L345.81 538.28L346.93 533.78L348.04 528.95L349.15 526.12L350.26 528.82L351.37 537.22L352.48 545.79L353.59 556.36L354.7 563.58L355.82 562.28L356.93 556.44L358.04 550.33L359.15 548.01L360.26 548.5L361.37 549.61L362.48 551.18L363.59 553.78L364.71 559.94L365.82 566.61L366.93 569.98L368.04 566.96L369.15 559.7L370.26 552.56L371.37 549.45L372.48 548.15L373.6 547.22L374.71 546.46L375.82 545.7L376.93 544.88L378.04 544.22L379.15 544.13L380.26 551.32L381.37 563.8L382.49 573.59L383.6 574.9L384.71 574.4L385.82 574.01L386.93 575.51L388.04 579.67L389.15 583.73L390.26 584.98L391.38 584.54L392.49 583.57L393.6 582.19L394.71 580.48L395.82 577.06L396.93 570.42L398.04 564.91L399.15 564.84L400.27 570.14L401.38 576.97L402.49 582.04L403.6 586.85L404.71 589.84L405.82 588.66L406.93 583.88L408.04 578L409.16 573.51L410.27 569.81L411.38 566.47L412.49 564.61L413.6 564.64L414.71 565.21L415.82 566.07L416.93 567.07L418.05 568.04L419.16 569.35L420.27 570.66L421.38 569.96L422.49 561.77L423.6 561.84L424.71 571.8L425.82 583.75L426.94 589.98L428.05 590L429.16 590L430.27 590.06L431.38 591.31L432.49 593.48L433.6 595.67L434.72 596.93L435.83 595.27L436.94 589.44L438.05 583.04L439.16 579.83L440.27 578.96L441.38 578.37L442.49 577.63L443.61 576.66L444.72 576.03L445.83 576.44L446.94 577.91L448.05 579.43L449.16 579.97L450.27 578.41L451.38 575.53L452.5 572.8L453.61 571.29L454.72 570.05L455.83 568.99L456.94 568.26L458.05 568L459.16 568.89L460.27 570.82L461.39 572.99L462.5 574.75L463.61 576.64L464.72 578.59L465.83 580.33L466.94 581.56L468.05 581.99L469.16 579.17L470.28 573.56L471.39 568.1L472.5 561.4L473.61 556.46L474.72 556.21L475.83 557.17L476.94 558.58L478.05 560.07L479.17 561.75L480.28 563.77L481.39 565.88L482.5 567.97L483.61 570.51L484.72 573.1L485.83 575.13L486.94 576L488.06 573.93L489.17 569.25L490.28 565.03L491.39 564.48L492.5 569.39L493.61 574.97L494.72 577.14L495.83 578.64L496.95 579.65L498.06 580L499.17 580L500.28 580L501.39 580L502.5 581.1L503.61 587.77L504.72 594.39L505.84 600.83L506.95 601.6L508.06 598.9L509.17 594.91L510.28 591.01L511.39 585.93L512.5 580.61L513.61 577.28L514.73 577.45L515.84 579.39L516.95 581.94L518.06 584.09L519.17 586.01L520.28 587.62L521.39 587.66L522.5 584.31L523.62 580.61L524.73 579.4L525.84 578.65L526.95 578.16L528.06 578.01L529.17 581.05L530.28 585.71L531.4 586.98L532.51 586.72L533.62 586.25L534.73 585.67L535.84 585.08L536.95 584.4L538.06 583.47L539.17 582.48L540.29 581.62L541.4 581.09L542.51 581.03L543.62 581.28L544.73 581.7L545.84 582.19L546.95 582.66L548.06 583.02L549.18 583.24L550.29 583.4L551.4 583.58L552.51 583.84L553.62 584.47L554.73 585.95L555.84 586.98L556.95 586.72L558.07 585.86L559.18 584.77L560.29 583.74L561.4 582.47L562.51 581.01L563.62 579.6L564.73 578.51L565.84 578.01L566.96 578.23L568.07 578.98L569.18 580.06L570.29 581.28L571.4 582.46L572.51 583.46L573.62 584.62L574.73 585.84L575.85 586.94L576.96 587.72L578.07 588L579.18 587.3L580.29 585.81L581.4 584.21L582.51 583.13L583.62 583.02L584.74 583.14L585.85 583.35L586.96 583.65L588.07 584.03L589.18 585.52L590.29 588.18L591.4 590.96L592.51 592.78L593.63 592.63L594.74 590.48L595.85 587.1L596.96 583.27L598.07 579.8L599.18 575.96L600.29 571.56L601.4 567.64L602.52 565.28L603.63 565.17L604.74 566.11L605.85 567.42L606.96 568.55L608.07 569L609.18 568.95L610.29 568.83L611.41 568.64L612.52 568.4L613.63 568.11L614.74 567.55L615.85 566.24L616.96 564.67L618.07 563.41L619.18 563.01L620.3 563.39L621.41 564.21L622.52 565.33L623.63 566.58L624.74 567.97L625.85 569.86L626.96 572.13L628.08 574.62L629.19 577.18L630.3 579.7L631.41 582.91L632.52 586.43L633.63 589.39L634.74 590.94L635.85 590.53L636.97 588.84L638.08 586.54L639.19 584.27L640.3 582.62L641.41 581.14L642.52 579.71L643.63 578.58L644.74 578.02L645.86 578.44L646.97 580.01L648.08 582.16L649.19 584.25L650.3 585.7L651.41 585.7L652.52 582.47L653.63 577L654.75 570.99L655.86 566.09L656.97 564L658.08 565.98L659.19 570.77L660.3 576.21L661.41 580.48L662.52 584.83L663.64 587.76L664.75 587.96L665.86 587.77L666.97 587.43L668.08 586.95L669.19 584.14L670.3 579L671.41 573.89L672.53 570.69L673.64 567.91L674.75 565.46L675.86 563.7L676.97 563L678.08 563.66L679.19 565.38L680.3 567.6L681.42 569.98L682.53 573.72L683.64 577.64L684.75 579.9L685.86 579.69L686.97 578.61L688.08 577.16L689.19 575.76L690.31 573.91L691.42 572.29L692.53 572.29L693.64 574.2L694.75 576.61L695.86 577.98L696.97 576.16L698.08 570.49L699.2 561.74L700.31 548.97L701.42 546.07L702.53 544.36L703.64 543.75L704.75 545.03L705.86 548.59L706.97 553.01L708.09 557.41L709.2 563.19L710.31 569.4L711.42 574.64L712.53 577.54L713.64 578.82L714.75 579.93L715.86 580.87L716.98 581.61L718.09 582.13L719.2 582.43L720.31 582.35L721.42 579.8L722.53 575.49L723.64 571.24L724.75 568.85L725.87 569.71L726.98 573.11L728.09 577.75L729.2 582.38L730.31 585.85L731.42 589.15L732.53 592.38L733.65 594.93L734.76 596.2L735.87 596.07L736.98 595.37L738.09 594.19L739.2 592.6L740.31 590.31L741.42 583.04L742.54 575.94L743.65 575.77L744.76 579.21L745.87 582.21L746.98 582.18L748.09 581L749.2 580.06L750.31 581.18L751.43 584.83L752.54 587.54L753.65 588.36L754.76 588.87L755.87 589.6L756.98 592.55L758.09 600.31L759.2 607.84L760.32 609.89L761.43 607.9L762.54 604.04L763.65 599.07L764.76 593.65L765.87 585.89L766.98 576.29L768.09 566.71L769.21 555.07L770.32 543.94L771.43 540.04L772.54 542.07L773.65 546.25L774.76 551.39L775.87 557.67L776.98 566.09L778.1 575.02L779.21 586.14L780.32 595.58L781.43 598.68L782.54 595.67L783.65 590.82L784.76 587.63L785.87 587.84L786.99 588.86L788.1 589.8L789.21 589.05L790.32 581.7L791.43 573.92L792.54 572.95L793.65 575.86L794.76 579.69L795.88 582.28L796.99 581.1L798.1 575.16L799.21 567.39L800.32 560.91L801.43 558.83L802.54 561.84L803.65 566.7L804.77 569.87L805.88 569.29L806.99 567.77L808.1 568.44L809.21 573.48L810.32 579.14L811.43 581.09L812.54 574.38L813.66 561.79L814.77 548.73L815.88 540.65L816.99 541.77L818.1 548.58L819.21 555.51L820.32 557.05L821.43 550.01L822.55 538.23L823.66 526.66L824.77 520.23L825.88 520.87L826.99 523.42L828.1 525.76L829.21 525.46L830.33 520.21L831.44 518.18L832.55 529.41L833.66 540.91L834.77 551.11L835.88 560.97L836.99 565.5L838.1 554.01L839.22 534.36L840.33 528.06L841.44 529.1L842.55 534.05L843.66 535L844.77 532.48L845.88 526.9L846.99 522.94L848.11 525.3L849.22 533.08L850.33 540.37L851.44 541.03L852.55 532.31L853.66 520.57L854.77 513.27L855.88 515.47L857 523.5L858.11 533.37L859.22 541.35L860.33 549.08L861.44 555.04L862.55 555.2L863.66 550.65L864.77 546.38L865.89 545.09L867 544.27L868.11 544.04L869.22 548.66L870.33 557.93L871.44 568.9L872.55 584.06L873.66 591.7L874.78 597L875.89 600.64L877 602L878.11 600.14L879.22 595.98L880.33 591.71L881.44 589.24L882.55 587.56L883.67 586.2L884.78 585.17L885.89 584.36L887 583.64L888.11 583.14L889.22 583.01L890.33 583.26L891.44 583.66L892.56 583.97L893.67 583.56L894.78 581.5L895.89 579.13L897 578L898.11 579.24L899.22 581.33L900.33 581.68L901.45 577.12L902.56 570.38L903.67 564.15L904.78 557.01L905.89 553.04L907 563.78L908.11 585.88L909.22 595.13L910.34 595.5L911.45 595.75L912.56 596.76L913.67 599.69L914.78 601.92L915.89 597.74L917 587.15L918.11 582.03L919.23 584.19L920.34 587.25L921.45 587.91L922.56 586.99L923.67 585.17L924.78 582.58L925.89 576.57L927 563.58L928 549" fill="none" stroke="#00bfbf" stroke-width="2.08" stroke-linecap="square" stroke-linejoin="round" clip-path="url(#c1)"/>
<path d="M122.5 714.5L122.5 413.5" fill="none" stroke="#000000" stroke-width="1.11" stroke-linecap="square"/>
<path d="M931.5 714.5L931.5 413.5" fill="none" stroke="#000000" stroke-width="1.11" stroke-linecap="square"/>
<path d="M122.5 714.5L931.5 714.5" fill="none" stroke="#000000" stroke-width="1.11" stroke-linecap="square"/>
<path d="M122.5 413.5L931.5 413.5" fill="none" stroke="#000000" stroke-width="1.11" stroke-linecap="square"/>
<text x="161.7" y="443.11" font-size="19.83" fill="#000000" textLength="469.88" lengthAdjust="spacingAndGlyphs" font-weight="bold">(b) Tidally-averaged SSH for full year 2017</text>
<path d="M149.62 707.86L921.73 707.86Q924.51 707.86 924.51 705.08L924.51 654.58Q924.51 651.8 921.73 651.8L149.62 651.8Q146.84 651.8 146.84 654.58L146.84 705.08Q146.84 707.86 149.62 707.86Z" fill="#ffffff" fill-opacity="0.8" stroke="#cccccc" stroke-width="1.39" stroke-opacity="0.8"/>
<path d="M152.5 667.5L166.5 667.5L180.5 667.5" fill="none" stroke="#ff0000" stroke-width="2.08" stroke-linecap="square" stroke-linejoin="round"/>
<text x="190.48" y="672.36" font-size="19.83" fill="#000000" textLength="195.75" lengthAdjust="spacingAndGlyphs">SSH obs low-passed</text>
<path d="M152.5 693.5L166.5 693.5L180.5 693.5" fill="none" stroke="#0000ff" stroke-width="2.08" stroke-linecap="square" stroke-linejoin="round"/>
<text x="190.48" y="698.3" font-size="19.83" fill="#000000" textLength="204.5" lengthAdjust="spacingAndGlyphs">SSH mod low-passed</text>
<path d="M423.5 667.5L437.5 667.5L451.5 667.5" fill="none" stroke="#00bfbf" stroke-width="2.08" stroke-linecap="square" stroke-linejoin="round"/>
<text x="461.65" y="672.36" font-size="19.83" fill="#000000" textLength="456.5" lengthAdjust="spacingAndGlyphs">SSH mod low-passed with Atm. Pressure Effect</text>
<path d="M999.35 316.2L1370.35 316.2L1370.35 15.2L999.35 15.2Z" fill="#ffffff"/>
<path d="M999.5 316.5L999.5 15.5" fill="none" stroke="#b0b0b0" stroke-width="1.11" stroke-linecap="square" stroke-linejoin="round" clip-path="url(#c2)"/>
<path d="M999.5 316.5L999.5 321.5" fill="#000000" stroke="#000000" stroke-width="1.11" stroke-linejoin="round"/>
<text x="983.05" y="340.92" font-size="19.83" fill="#000000" textLength="31" lengthAdjust="spacingAndGlyphs">0.5</text>
<path d="M1092.5 316.5L1092.5 15.5" fill="none" stroke="#b0b0b0" stroke-width="1.11" stroke-linecap="square" stroke-linejoin="round" clip-path="url(#c2)"/>
<path d="M1092.5 316.5L1092.5 321.5" fill="#000000" stroke="#000000" stroke-width="1.11" stroke-linejoin="round"/>
<text x="1075.86" y="340.92" font-size="19.83" fill="#000000" textLength="30.88" lengthAdjust="spacingAndGlyphs">1.0</text>
<path d="M1184.5 316.5L1184.5 15.5" fill="none" stroke="#b0b0b0" stroke-width="1.11" stroke-linecap="square" stroke-linejoin="round" clip-path="url(#c2)"/>
<path d="M1184.5 316.5L1184.5 321.5" fill="#000000" stroke="#000000" stroke-width="1.11" stroke-linejoin="round"/>
<text x="1168.49" y="340.92" font-size="19.83" fill="#000000" textLength="31.12" lengthAdjust="spacingAndGlyphs">1.5</text>
<path d="M1277.5 316.5L1277.5 15.5" fill="none" stroke="#b0b0b0" stroke-width="1.11" stroke-linecap="square" stroke-linejoin="round" clip-path="url(#c2)"/>
<path d="M1277.5 316.5L1277.5 321.5" fill="#000000" stroke="#000000" stroke-width="1.11" stroke-linejoin="round"/>
<text x="1261.36" y="340.92" font-size="19.83" fill="#000000" textLength="30.88" lengthAdjust="spacingAndGlyphs">2.0</text>
<path d="M1370.5 316.5L1370.5 15.5" fill="none" stroke="#b0b0b0" stroke-width="1.11" stroke-linecap="square" stroke-linejoin="round" clip-path="url(#c2)"/>
<path d="M1370.5 316.5L1370.5 321.5" fill="#000000" stroke="#000000" stroke-width="1.11" stroke-linejoin="round"/>
<text x="1353.99" y="340.92" font-size="19.83" fill="#000000" textLength="31.12" lengthAdjust="spacingAndGlyphs">2.5</text>
<text x="1071.49" y="365.48" font-size="19.83" fill="#000000" textLength="225.12" lengthAdjust="spacingAndGlyphs">Frequency (cycles/day)</text>
<path d="M999.5 316.5L1370.5 316.5" fill="none" stroke="#b0b0b0" stroke-width="1.11" stroke-linecap="square" stroke-linejoin="round" clip-path="url(#c2)"/>
<path d="M999.5 316.5L994.5 316.5" fill="#000000" stroke="#000000" stroke-width="1.11" stroke-linejoin="round"/>
<text x="958.08" y="323.7" font-size="19.83" fill="#000000" textLength="30.75" lengthAdjust="spacingAndGlyphs">0.0</text>
<path d="M999.5 273.5L1370.5 273.5" fill="none" stroke="#b0b0b0" stroke-width="1.11" stroke-linecap="square" stroke-linejoin="round" clip-path="url(#c2)"/>
<path d="M999.5 273.5L994.5 273.5" fill="#000000" stroke="#000000" stroke-width="1.11" stroke-linejoin="round"/>
<text x="957.95" y="280.7" font-size="19.83" fill="#000000" textLength="30.88" lengthAdjust="spacingAndGlyphs">0.2</text>
<path d="M999.5 230.5L1370.5 230.5" fill="none" stroke="#b0b0b0" stroke-width="1.11" stroke-linecap="square" stroke-linejoin="round" clip-path="url(#c2)"/>
<path d="M999.5 230.5L994.5 230.5" fill="#000000" stroke="#000000" stroke-width="1.11" stroke-linejoin="round"/>
<text x="957.95" y="237.7" font-size="19.83" fill="#000000" textLength="30.88" lengthAdjust="spacingAndGlyphs">0.4</text>
<path d="M999.5 187.5L1370.5 187.5" fill="none" stroke="#b0b0b0" stroke-width="1.11" stroke-linecap="square" stroke-linejoin="round" clip-path="url(#c2)"/>
<path d="M999.5 187.5L994.5 187.5" fill="#000000" stroke="#000000" stroke-width="1.11" stroke-linejoin="round"/>
<text x="957.95" y="194.7" font-size="19.83" fill="#000000" textLength="30.88" lengthAdjust="spacingAndGlyphs">0.6</text>
<path d="M999.5 144.5L1370.5 144.5" fill="none" stroke="#b0b0b0" stroke-width="1.11" stroke-linecap="square" stroke-linejoin="round" clip-path="url(#c2)"/>
<path d="M999.5 144.5L994.5 144.5" fill="#000000" stroke="#000000" stroke-width="1.11" stroke-linejoin="round"/>
<text x="957.95" y="151.7" font-size="19.83" fill="#000000" textLength="30.88" lengthAdjust="spacingAndGlyphs">0.8</text>
<path d="M999.5 101.5L1370.5 101.5" fill="none" stroke="#b0b0b0" stroke-width="1.11" stroke-linecap="square" stroke-linejoin="round" clip-path="url(#c2)"/>
<path d="M999.5 101.5L994.5 101.5" fill="#000000" stroke="#000000" stroke-width="1.11" stroke-linejoin="round"/>
<text x="957.95" y="108.7" font-size="19.83" fill="#000000" textLength="30.88" lengthAdjust="spacingAndGlyphs">1.0</text>
<path d="M999.5 58.5L1370.5 58.5" fill="none" stroke="#b0b0b0" stroke-width="1.11" stroke-linecap="square" stroke-linejoin="round" clip-path="url(#c2)"/>
<path d="M999.5 58.5L994.5 58.5" fill="#000000" stroke="#000000" stroke-width="1.11" stroke-linejoin="round"/>
<text x="957.83" y="65.7" font-size="19.83" fill="#000000" textLength="31" lengthAdjust="spacingAndGlyphs">1.2</text>
<path d="M999.5 15.5L1370.5 15.5" fill="none" stroke="#b0b0b0" stroke-width="1.11" stroke-linecap="square" stroke-linejoin="round" clip-path="url(#c2)"/>
<path d="M999.5 15.5L994.5 15.5" fill="#000000" stroke="#000000" stroke-width="1.11" stroke-linejoin="round"/>
<text x="957.83" y="22.7" font-size="19.83" fill="#000000" textLength="31" lengthAdjust="spacingAndGlyphs">1.4</text>
<path d="M999.5 316.5L999.5 15.5" fill="none" stroke="#000000" stroke-width="1.11" stroke-linecap="square"/>
<path d="M1370.5 316.5L1370.5 15.5" fill="none" stroke="#000000" stroke-width="1.11" stroke-linecap="square"/>
<path d="M999.5 316.5L1370.5 316.5" fill="none" stroke="#000000" stroke-width="1.11" stroke-linecap="square"/>
<path d="M999.5 15.5L1370.5 15.5" fill="none" stroke="#000000" stroke-width="1.11" stroke-linecap="square"/>
<text x="1016.7" y="45.3" font-size="19.83" fill="#000000" textLength="193.88" lengthAdjust="spacingAndGlyphs" font-weight="bold">(c) Amplitude (m)</text>
<text x="1016.1" y="84.19" font-size="19.83" fill="#ff0000" textLength="154.38" lengthAdjust="spacingAndGlyphs" font-weight="bold">OBSERVATION</text>
<text x="1016.1" y="104.51" font-size="19.83" fill="#0000ff" textLength="77.75" lengthAdjust="spacingAndGlyphs" font-weight="bold">MODEL</text>
<text x="1247.74" y="85.2" font-size="19.83" fill="#ff0000" textLength="33" lengthAdjust="spacingAndGlyphs" font-weight="bold">M2</text>
<text x="1247.74" y="96.6" font-size="19.83" fill="#0000ff" textLength="33" lengthAdjust="spacingAndGlyphs" font-weight="bold">M2</text>
<text x="1262.99" y="263.65" font-size="19.83" fill="#ff0000" textLength="27.62" lengthAdjust="spacingAndGlyphs" font-weight="bold">S2</text>
<text x="1262.99" y="263.65" font-size="19.83" fill="#0000ff" textLength="27.62" lengthAdjust="spacingAndGlyphs" font-weight="bold">S2</text>
<text x="1242.57" y="274.62" font-size="19.83" fill="#ff0000" textLength="29.88" lengthAdjust="spacingAndGlyphs" font-weight="bold">N2</text>
<text x="1242.57" y="274.83" font-size="19.83" fill="#0000ff" textLength="29.88" lengthAdjust="spacingAndGlyphs" font-weight="bold">N2</text>
<text x="1077.5" y="159.59" font-size="19.83" fill="#ff0000" textLength="28.62" lengthAdjust="spacingAndGlyphs" font-weight="bold">K1</text>
<text x="1077.5" y="162.6" font-size="19.83" fill="#0000ff" textLength="28.62" lengthAdjust="spacingAndGlyphs" font-weight="bold">K1</text>
<text x="1063.1" y="237.21" font-size="19.83" fill="#ff0000" textLength="30.25" lengthAdjust="spacingAndGlyphs" font-weight="bold">O1</text>
<text x="1063.1" y="237.85" font-size="19.83" fill="#0000ff" textLength="30.25" lengthAdjust="spacingAndGlyphs" font-weight="bold">O1</text>
<path d="M999.35 714.8L1370.35 714.8L1370.35 413.7L999.35 413.7Z" fill="#ffffff"/>
<path d="M999.5 714.5L999.5 413.5" fill="none" stroke="#b0b0b0" stroke-width="1.11" stroke-linecap="square" stroke-linejoin="round" clip-path="url(#c3)"/>
<path d="M999.5 714.5L999.5 719.5" fill="#000000" stroke="#000000" stroke-width="1.11" stroke-linejoin="round"/>
<text x="983.05" y="739.52" font-size="19.83" fill="#000000" textLength="31" lengthAdjust="spacingAndGlyphs">0.5</text>
<path d="M1092.5 714.5L1092.5 413.5" fill="none" stroke="#b0b0b0" stroke-width="1.11" stroke-linecap="square" stroke-linejoin="round" clip-path="url(#c3)"/>
<path d="M1092.5 714.5L1092.5 719.5" fill="#000000" stroke="#000000" stroke-width="1.11" stroke-linejoin="round"/>
<text x="1075.86" y="739.52" font-size="19.83" fill="#000000" textLength="30.88" lengthAdjust="spacingAndGlyphs">1.0</text>
<path d="M1184.5 714.5L1184.5 413.5" fill="none" stroke="#b0b0b0" stroke-width="1.11" stroke-linecap="square" stroke-linejoin="round" clip-path="url(#c3)"/>
<path d="M1184.5 714.5L1184.5 719.5" fill="#000000" stroke="#000000" stroke-width="1.11" stroke-linejoin="round"/>
<text x="1168.49" y="739.52" font-size="19.83" fill="#000000" textLength="31.12" lengthAdjust="spacingAndGlyphs">1.5</text>
<path d="M1277.5 714.5L1277.5 413.5" fill="none" stroke="#b0b0b0" stroke-width="1.11" stroke-linecap="square" stroke-linejoin="round" clip-path="url(#c3)"/>
<path d="M1277.5 714.5L1277.5 719.5" fill="#000000" stroke="#000000" stroke-width="1.11" stroke-linejoin="round"/>
<text x="1261.36" y="739.52" font-size="19.83" fill="#000000" textLength="30.88" lengthAdjust="spacingAndGlyphs">2.0</text>
<path d="M1370.5 714.5L1370.5 413.5" fill="none" stroke="#b0b0b0" stroke-width="1.11" stroke-linecap="square" stroke-linejoin="round" clip-path="url(#c3)"/>
<path d="M1370.5 714.5L1370.5 719.5" fill="#000000" stroke="#000000" stroke-width="1.11" stroke-linejoin="round"/>
<text x="1353.99" y="739.52" font-size="19.83" fill="#000000" textLength="31.12" lengthAdjust="spacingAndGlyphs">2.5</text>
<text x="1071.49" y="764.08" font-size="19.83" fill="#000000" textLength="225.12" lengthAdjust="spacingAndGlyphs">Frequency (cycles/day)</text>
<path d="M999.5 714.5L1370.5 714.5" fill="none" stroke="#b0b0b0" stroke-width="1.11" stroke-linecap="square" stroke-linejoin="round" clip-path="url(#c3)"/>
<path d="M999.5 714.5L994.5 714.5" fill="#000000" stroke="#000000" stroke-width="1.11" stroke-linejoin="round"/>
<text x="976.58" y="722.3" font-size="19.83" fill="#000000" textLength="12.25" lengthAdjust="spacingAndGlyphs">0</text>
<path d="M999.5 631.5L1370.5 631.5" fill="none" stroke="#b0b0b0" stroke-width="1.11" stroke-linecap="square" stroke-linejoin="round" clip-path="url(#c3)"/>
<path d="M999.5 631.5L994.5 631.5" fill="#000000" stroke="#000000" stroke-width="1.11" stroke-linejoin="round"/>
<text x="951.95" y="638.8" font-size="19.83" fill="#000000" textLength="36.88" lengthAdjust="spacingAndGlyphs">100</text>
<path d="M999.5 547.5L1370.5 547.5" fill="none" stroke="#b0b0b0" stroke-width="1.11" stroke-linecap="square" stroke-linejoin="round" clip-path="url(#c3)"/>
<path d="M999.5 547.5L994.5 547.5" fill="#000000" stroke="#000000" stroke-width="1.11" stroke-linejoin="round"/>
<text x="951.95" y="555.3" font-size="19.83" fill="#000000" textLength="36.88" lengthAdjust="spacingAndGlyphs">200</text>
<path d="M999.5 464.5L1370.5 464.5" fill="none" stroke="#b0b0b0" stroke-width="1.11" stroke-linecap="square" stroke-linejoin="round" clip-path="url(#c3)"/>
<path d="M999.5 464.5L994.5 464.5" fill="#000000" stroke="#000000" stroke-width="1.11" stroke-linejoin="round"/>
<text x="951.95" y="471.8" font-size="19.83" fill="#000000" textLength="36.88" lengthAdjust="spacingAndGlyphs">300</text>
<path d="M999.5 714.5L999.5 413.5" fill="none" stroke="#000000" stroke-width="1.11" stroke-linecap="square"/>
<path d="M1370.5 714.5L1370.5 413.5" fill="none" stroke="#000000" stroke-width="1.11" stroke-linecap="square"/>
<path d="M999.5 714.5L1370.5 714.5" fill="none" stroke="#000000" stroke-width="1.11" stroke-linecap="square"/>
<path d="M999.5 413.5L1370.5 413.5" fill="none" stroke="#000000" stroke-width="1.11" stroke-linecap="square"/>
<text x="1016.7" y="443.11" font-size="19.83" fill="#000000" textLength="217.88" lengthAdjust="spacingAndGlyphs" font-weight="bold">(d) Phase (degrees)</text>
<text x="1247.74" y="709.45" font-size="19.83" fill="#ff0000" textLength="33" lengthAdjust="spacingAndGlyphs" font-weight="bold">M2</text>
<text x="1247.74" y="698.59" font-size="19.83" fill="#0000ff" textLength="33" lengthAdjust="spacingAndGlyphs" font-weight="bold">M2</text>
<text x="1262.99" y="689.41" font-size="19.83" fill="#ff0000" textLength="27.62" lengthAdjust="spacingAndGlyphs" font-weight="bold">S2</text>
<text x="1262.99" y="676.88" font-size="19.83" fill="#0000ff" textLength="27.62" lengthAdjust="spacingAndGlyphs" font-weight="bold">S2</text>
<text x="1242.57" y="433.65" font-size="19.83" fill="#ff0000" textLength="29.88" lengthAdjust="spacingAndGlyphs" font-weight="bold">N2</text>
<text x="1242.57" y="422.96" font-size="19.83" fill="#0000ff" textLength="29.88" lengthAdjust="spacingAndGlyphs" font-weight="bold">N2</text>
<text x="1077.5" y="483.16" font-size="19.83" fill="#ff0000" textLength="28.62" lengthAdjust="spacingAndGlyphs" font-weight="bold">K1</text>
<text x="1077.5" y="478.15" font-size="19.83" fill="#0000ff" textLength="28.62" lengthAdjust="spacingAndGlyphs" font-weight="bold">K1</text>
<text x="1063.1" y="512.39" font-size="19.83" fill="#ff0000" textLength="30.25" lengthAdjust="spacingAndGlyphs" font-weight="bold">O1</text>
<text x="1063.1" y="505.71" font-size="19.83" fill="#0000ff" textLength="30.25" lengthAdjust="spacingAndGlyphs" font-weight="bold">O1</text>
</svg></body></html>
